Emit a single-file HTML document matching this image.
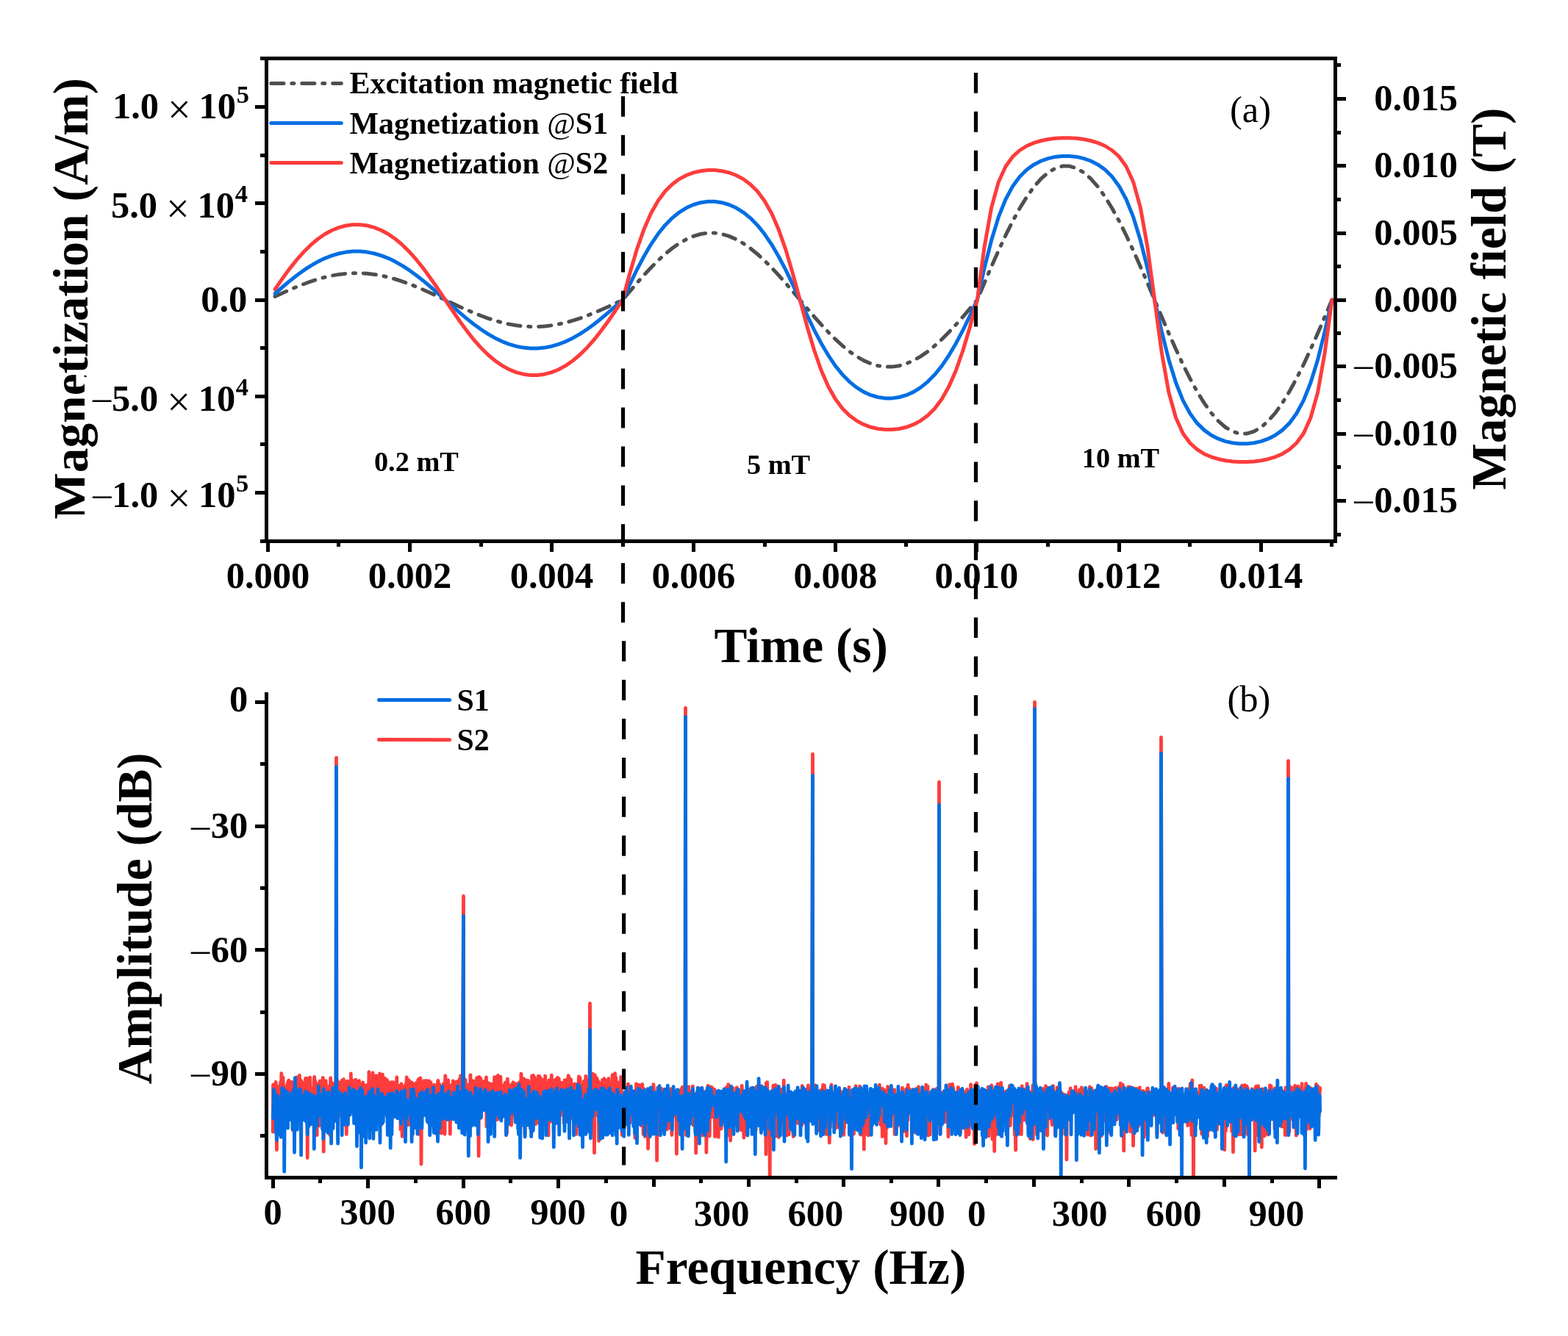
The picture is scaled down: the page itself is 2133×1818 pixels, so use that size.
<!DOCTYPE html><html><head><meta charset="utf-8"><title>Magnetization and spectrum</title><style>html,body{margin:0;padding:0;background:#fff}svg{display:block}</style></head><body><svg xmlns="http://www.w3.org/2000/svg" width="2133" height="1818" viewBox="0 0 2133 1818">
<rect width="2133" height="1818" fill="#fff"/>
<defs><clipPath id="cb"><rect x="362.5" y="932.0" width="1456.5" height="670.5"/></clipPath></defs>
<polyline points="371.2,1540.2 371.6,1476.0 372.1,1483.1 372.5,1487.0 372.9,1509.8 373.4,1495.3 373.8,1505.7 374.2,1485.4 374.7,1498.1 375.1,1472.3 375.5,1477.4 375.9,1492.7 376.4,1564.7 376.8,1515.0 377.2,1504.9 377.7,1491.4 378.1,1495.5 378.5,1481.4 379.0,1479.3 379.4,1498.9 379.8,1491.3 380.3,1477.7 380.7,1486.9 381.1,1499.1 381.6,1472.7 382.0,1481.8 382.4,1512.9 382.8,1460.7 383.3,1478.1 383.7,1521.5 384.1,1477.2 384.6,1498.9 385.0,1466.2 385.4,1478.7 385.9,1477.9 386.3,1490.4 386.7,1478.5 387.2,1481.2 387.6,1503.9 388.0,1491.1 388.5,1501.7 388.9,1512.0 389.3,1484.8 389.7,1482.4 390.2,1500.4 390.6,1494.3 391.0,1474.5 391.5,1507.7 391.9,1472.1 392.3,1497.2 392.8,1470.1 393.2,1491.6 393.6,1496.4 394.1,1517.7 394.5,1491.3 394.9,1481.4 395.4,1475.8 395.8,1483.1 396.2,1472.2 396.6,1477.6 397.1,1509.3 397.5,1496.9 397.9,1491.4 398.4,1538.0 398.8,1496.7 399.2,1478.6 399.7,1505.4 400.1,1518.6 400.5,1472.0 401.0,1508.0 401.4,1481.1 401.8,1478.8 402.3,1493.5 402.7,1474.1 403.1,1480.6 403.5,1465.9 404.0,1476.0 404.4,1490.3 404.8,1492.3 405.3,1493.1 405.7,1475.2 406.1,1470.5 406.6,1482.0 407.0,1480.5 407.4,1463.3 407.9,1476.3 408.3,1496.2 408.7,1480.7 409.2,1529.8 409.6,1477.5 410.0,1470.7 410.4,1474.3 410.9,1501.2 411.3,1473.1 411.7,1475.1 412.2,1478.1 412.6,1498.3 413.0,1500.9 413.5,1520.2 413.9,1488.1 414.3,1480.6 414.8,1514.1 415.2,1486.4 415.6,1467.5 416.1,1512.6 416.5,1479.1 416.9,1499.3 417.3,1476.7 417.8,1467.4 418.2,1575.5 418.6,1480.6 419.1,1476.9 419.5,1470.8 419.9,1484.1 420.4,1513.4 420.8,1478.5 421.2,1479.8 421.7,1466.2 422.1,1487.6 422.5,1487.6 423.0,1498.8 423.4,1493.4 423.8,1498.9 424.2,1513.0 424.7,1482.0 425.1,1483.3 425.5,1486.5 426.0,1482.5 426.4,1484.9 426.8,1493.4 427.3,1470.5 427.7,1465.5 428.1,1487.9 428.6,1470.5 429.0,1473.3 429.4,1497.2 429.9,1481.6 430.3,1491.6 430.7,1481.1 431.2,1544.7 431.6,1482.0 432.0,1488.8 432.4,1497.7 432.9,1474.9 433.3,1502.5 433.7,1529.3 434.2,1531.8 434.6,1504.8 435.0,1471.2 435.5,1509.0 435.9,1531.1 436.3,1475.1 436.8,1495.5 437.2,1477.9 437.6,1471.0 438.1,1471.9 438.5,1498.5 438.9,1468.7 439.3,1466.5 439.8,1493.9 440.2,1567.1 440.6,1493.3 441.1,1496.9 441.5,1490.1 441.9,1531.3 442.4,1535.8 442.8,1477.2 443.2,1470.6 443.7,1486.5 444.1,1522.5 444.5,1512.7 445.0,1499.2 445.4,1492.7 445.8,1499.1 446.2,1493.6 446.7,1495.9 447.1,1514.4 447.5,1518.9 448.0,1489.4 448.4,1477.4 448.8,1544.6 449.3,1488.3 449.7,1466.9 450.1,1493.5 450.6,1496.9 451.0,1495.3 451.4,1473.5 451.9,1486.9 452.3,1522.7 452.7,1490.9 453.1,1487.8 453.6,1495.1 454.0,1475.6 454.4,1479.3 454.9,1485.4 455.3,1476.9 455.7,1476.3 456.2,1474.3 456.6,1474.6 457.0,1465.6 457.5,1031.2 457.9,1473.6 458.3,1507.1 458.8,1470.8 459.2,1509.3 459.6,1529.9 460.0,1480.6 460.5,1493.0 460.9,1514.8 461.3,1517.6 461.8,1472.9 462.2,1479.1 462.6,1496.5 463.1,1485.0 463.5,1478.2 463.9,1512.6 464.4,1475.6 464.8,1481.9 465.2,1470.4 465.7,1500.3 466.1,1512.7 466.5,1487.0 466.9,1500.9 467.4,1468.7 467.8,1512.5 468.2,1482.3 468.7,1473.0 469.1,1476.1 469.5,1476.5 470.0,1491.6 470.4,1492.2 470.8,1475.7 471.3,1543.5 471.7,1484.3 472.1,1471.5 472.6,1471.3 473.0,1478.0 473.4,1507.3 473.8,1508.9 474.3,1518.7 474.7,1475.2 475.1,1478.7 475.6,1476.8 476.0,1497.4 476.4,1482.9 476.9,1493.8 477.3,1461.0 477.7,1474.9 478.2,1480.7 478.6,1481.1 479.0,1487.6 479.5,1500.0 479.9,1487.7 480.3,1473.6 480.8,1490.1 481.2,1470.7 481.6,1474.7 482.0,1493.2 482.5,1475.8 482.9,1483.0 483.3,1475.3 483.8,1469.1 484.2,1474.0 484.6,1480.1 485.1,1474.6 485.5,1509.0 485.9,1475.4 486.4,1476.9 486.8,1521.6 487.2,1475.6 487.7,1483.7 488.1,1506.5 488.5,1470.6 488.9,1499.0 489.4,1500.7 489.8,1474.7 490.2,1482.6 490.7,1479.2 491.1,1481.7 491.5,1476.6 492.0,1475.6 492.4,1521.0 492.8,1524.7 493.3,1484.3 493.7,1473.0 494.1,1481.7 494.6,1477.9 495.0,1484.0 495.4,1494.5 495.8,1500.7 496.3,1496.0 496.7,1517.4 497.1,1501.7 497.6,1480.9 498.0,1476.8 498.4,1478.9 498.9,1485.2 499.3,1476.7 499.7,1531.6 500.2,1517.1 500.6,1511.7 501.0,1477.7 501.5,1511.2 501.9,1458.7 502.3,1476.3 502.7,1491.1 503.2,1483.6 503.6,1502.9 504.0,1473.4 504.5,1483.6 504.9,1502.4 505.3,1478.7 505.8,1472.8 506.2,1495.5 506.6,1483.6 507.1,1459.9 507.5,1492.2 507.9,1478.5 508.4,1520.6 508.8,1504.5 509.2,1475.6 509.6,1519.4 510.1,1477.3 510.5,1485.0 510.9,1465.6 511.4,1471.0 511.8,1463.7 512.2,1504.3 512.7,1467.0 513.1,1477.4 513.5,1496.7 514.0,1466.5 514.4,1479.9 514.8,1492.9 515.3,1523.9 515.7,1475.0 516.1,1502.5 516.5,1460.9 517.0,1478.7 517.4,1491.1 517.8,1478.4 518.3,1510.6 518.7,1530.2 519.1,1489.5 519.6,1505.5 520.0,1486.2 520.4,1462.2 520.9,1487.3 521.3,1507.3 521.7,1498.7 522.2,1485.4 522.6,1472.5 523.0,1514.8 523.4,1467.1 523.9,1515.5 524.3,1488.9 524.7,1472.2 525.2,1473.6 525.6,1478.7 526.0,1474.4 526.5,1469.4 526.9,1484.3 527.3,1508.4 527.8,1482.6 528.2,1489.2 528.6,1516.7 529.1,1472.9 529.5,1483.0 529.9,1495.4 530.3,1501.4 530.8,1476.6 531.2,1497.1 531.6,1495.8 532.1,1487.2 532.5,1472.7 532.9,1482.4 533.4,1482.8 533.8,1487.3 534.2,1472.7 534.7,1501.4 535.1,1488.4 535.5,1515.6 536.0,1503.1 536.4,1491.4 536.8,1501.8 537.3,1475.2 537.7,1504.8 538.1,1482.5 538.5,1472.7 539.0,1481.9 539.4,1475.1 539.8,1465.9 540.3,1511.3 540.7,1485.0 541.1,1505.3 541.6,1501.6 542.0,1504.5 542.4,1477.3 542.9,1503.5 543.3,1504.9 543.7,1512.1 544.2,1495.8 544.6,1491.9 545.0,1537.2 545.4,1495.9 545.9,1474.8 546.3,1534.4 546.7,1487.2 547.2,1546.4 547.6,1500.9 548.0,1477.9 548.5,1482.5 548.9,1482.9 549.3,1494.8 549.8,1515.1 550.2,1482.4 550.6,1525.6 551.1,1478.6 551.5,1527.9 551.9,1475.4 552.3,1504.9 552.8,1479.5 553.2,1465.9 553.6,1478.9 554.1,1476.7 554.5,1531.0 554.9,1494.8 555.4,1471.7 555.8,1486.2 556.2,1469.9 556.7,1475.7 557.1,1473.5 557.5,1500.3 558.0,1504.8 558.4,1530.4 558.8,1473.3 559.2,1472.7 559.7,1511.0 560.1,1473.1 560.5,1489.3 561.0,1476.1 561.4,1486.7 561.8,1491.3 562.3,1474.6 562.7,1514.5 563.1,1489.0 563.6,1482.3 564.0,1479.3 564.4,1507.1 564.9,1493.8 565.3,1507.4 565.7,1518.0 566.1,1522.9 566.6,1473.1 567.0,1475.0 567.4,1512.7 567.9,1515.1 568.3,1504.2 568.7,1469.6 569.2,1502.7 569.6,1487.6 570.0,1468.1 570.5,1500.0 570.9,1543.9 571.3,1491.7 571.8,1466.8 572.2,1472.3 572.6,1476.5 573.0,1584.0 573.5,1497.3 573.9,1490.5 574.3,1477.2 574.8,1488.0 575.2,1479.3 575.6,1518.6 576.1,1513.6 576.5,1493.2 576.9,1470.7 577.4,1504.6 577.8,1486.2 578.2,1474.8 578.7,1486.1 579.1,1479.7 579.5,1470.7 579.9,1485.2 580.4,1470.6 580.8,1474.7 581.2,1476.2 581.7,1482.5 582.1,1472.2 582.5,1513.2 583.0,1478.2 583.4,1486.6 583.8,1471.0 584.3,1504.6 584.7,1482.2 585.1,1476.1 585.6,1480.9 586.0,1472.8 586.4,1523.3 586.9,1519.6 587.3,1487.1 587.7,1485.1 588.1,1489.0 588.6,1488.8 589.0,1479.3 589.4,1480.6 589.9,1496.4 590.3,1494.2 590.7,1476.2 591.2,1486.8 591.6,1520.8 592.0,1483.5 592.5,1499.6 592.9,1488.3 593.3,1483.2 593.8,1482.9 594.2,1477.8 594.6,1485.7 595.0,1540.5 595.5,1471.3 595.9,1470.5 596.3,1476.8 596.8,1475.0 597.2,1493.0 597.6,1475.4 598.1,1495.3 598.5,1486.6 598.9,1486.6 599.4,1481.6 599.8,1530.6 600.2,1542.1 600.7,1510.8 601.1,1479.6 601.5,1478.4 601.9,1490.7 602.4,1497.7 602.8,1481.5 603.2,1475.0 603.7,1484.8 604.1,1480.8 604.5,1505.6 605.0,1543.3 605.4,1475.6 605.8,1463.8 606.3,1478.9 606.7,1484.3 607.1,1473.9 607.6,1512.3 608.0,1478.6 608.4,1487.8 608.8,1503.2 609.3,1503.5 609.7,1469.9 610.1,1519.3 610.6,1479.1 611.0,1500.6 611.4,1499.3 611.9,1499.8 612.3,1543.2 612.7,1506.0 613.2,1476.9 613.6,1482.3 614.0,1477.3 614.5,1482.1 614.9,1480.9 615.3,1483.9 615.7,1488.4 616.2,1471.0 616.6,1475.7 617.0,1481.0 617.5,1473.2 617.9,1512.9 618.3,1472.1 618.8,1502.7 619.2,1484.5 619.6,1519.0 620.1,1490.4 620.5,1489.0 620.9,1481.7 621.4,1481.6 621.8,1504.0 622.2,1471.6 622.6,1473.7 623.1,1477.5 623.5,1497.0 623.9,1484.0 624.4,1471.6 624.8,1486.7 625.2,1468.3 625.7,1485.9 626.1,1473.5 626.5,1463.8 627.0,1482.5 627.4,1469.0 627.8,1475.6 628.3,1493.9 628.7,1475.4 629.1,1490.6 629.5,1478.1 630.5,1219.4 630.4,1475.0 630.8,1487.2 631.3,1509.4 631.7,1479.4 632.1,1476.4 632.6,1469.5 633.0,1469.1 633.4,1475.0 633.9,1483.9 634.3,1514.5 634.7,1477.0 635.2,1489.2 635.6,1493.4 636.0,1477.5 636.4,1476.7 636.9,1484.3 637.3,1477.8 637.7,1477.3 638.2,1486.2 638.6,1489.8 639.0,1543.5 639.5,1478.7 639.9,1462.8 640.3,1474.4 640.8,1476.3 641.2,1488.7 641.6,1490.3 642.1,1528.1 642.5,1477.8 642.9,1479.4 643.4,1485.4 643.8,1470.9 644.2,1507.8 644.6,1505.4 645.1,1486.4 645.5,1510.4 645.9,1513.1 646.4,1504.1 646.8,1486.0 647.2,1477.9 647.7,1507.0 648.1,1512.7 648.5,1466.8 649.0,1508.2 649.4,1509.9 649.8,1476.3 650.3,1466.2 650.7,1474.8 651.1,1573.1 651.5,1478.2 652.0,1465.3 652.4,1488.3 652.8,1470.0 653.3,1521.9 653.7,1467.3 654.1,1468.6 654.6,1482.6 655.0,1471.6 655.4,1471.2 655.9,1476.0 656.3,1477.7 656.7,1478.7 657.2,1476.0 657.6,1486.5 658.0,1480.4 658.4,1477.6 658.9,1477.6 659.3,1471.3 659.7,1477.0 660.2,1495.6 660.6,1493.4 661.0,1471.2 661.5,1465.9 661.9,1532.9 662.3,1472.3 662.8,1477.0 663.2,1510.7 663.6,1501.5 664.1,1479.8 664.5,1473.8 664.9,1514.3 665.3,1481.3 665.8,1478.6 666.2,1476.0 666.6,1510.6 667.1,1474.9 667.5,1477.6 667.9,1483.9 668.4,1495.2 668.8,1475.1 669.2,1505.9 669.7,1477.2 670.1,1499.4 670.5,1491.7 671.0,1495.3 671.4,1494.0 671.8,1512.8 672.2,1488.8 672.7,1465.6 673.1,1503.1 673.5,1522.5 674.0,1465.9 674.4,1502.1 674.8,1487.2 675.3,1489.2 675.7,1489.8 676.1,1486.2 676.6,1523.6 677.0,1495.4 677.4,1463.3 677.9,1480.5 678.3,1475.8 678.7,1484.9 679.1,1498.3 679.6,1479.4 680.0,1471.6 680.4,1480.9 680.9,1465.2 681.3,1481.3 681.7,1520.0 682.2,1478.9 682.6,1478.4 683.0,1494.1 683.5,1489.7 683.9,1478.1 684.3,1477.1 684.8,1476.9 685.2,1477.1 685.6,1478.7 686.0,1508.7 686.5,1506.7 686.9,1481.0 687.3,1473.2 687.8,1488.3 688.2,1473.3 688.6,1544.7 689.1,1472.3 689.5,1542.3 689.9,1479.1 690.4,1468.1 690.8,1484.9 691.2,1492.0 691.7,1479.3 692.1,1494.9 692.5,1499.7 692.9,1477.4 693.4,1514.1 693.8,1498.3 694.2,1476.6 694.7,1513.0 695.1,1479.6 695.5,1531.2 696.0,1514.1 696.4,1501.8 696.8,1519.3 697.3,1491.3 697.7,1473.4 698.1,1472.9 698.6,1492.6 699.0,1490.1 699.4,1477.7 699.9,1500.1 700.3,1516.1 700.7,1478.9 701.1,1477.3 701.6,1485.5 702.0,1475.0 702.4,1493.2 702.9,1478.3 703.3,1485.3 703.7,1482.8 704.2,1509.9 704.6,1506.7 705.0,1501.2 705.5,1498.9 705.9,1487.5 706.3,1472.9 706.8,1475.7 707.2,1482.8 707.6,1478.8 708.0,1508.1 708.5,1502.4 708.9,1461.1 709.3,1465.3 709.8,1495.4 710.2,1479.2 710.6,1474.2 711.1,1484.2 711.5,1470.9 711.9,1478.7 712.4,1490.1 712.8,1467.9 713.2,1473.5 713.7,1475.0 714.1,1543.4 714.5,1478.0 714.9,1479.5 715.4,1516.2 715.8,1474.5 716.2,1470.2 716.7,1470.9 717.1,1491.5 717.5,1516.0 718.0,1501.2 718.4,1470.3 718.8,1526.7 719.3,1473.0 719.7,1474.8 720.1,1474.4 720.6,1521.9 721.0,1474.4 721.4,1482.9 721.8,1480.8 722.3,1477.2 722.7,1490.6 723.1,1541.9 723.6,1463.9 724.0,1487.5 724.4,1464.3 724.9,1476.8 725.3,1463.3 725.7,1480.8 726.2,1525.6 726.6,1478.6 727.0,1465.7 727.5,1477.9 727.9,1477.3 728.3,1469.0 728.7,1529.6 729.2,1482.9 729.6,1472.7 730.0,1510.9 730.5,1488.6 730.9,1503.1 731.3,1510.4 731.8,1498.6 732.2,1464.5 732.6,1527.9 733.1,1481.8 733.5,1464.3 733.9,1491.1 734.4,1489.4 734.8,1484.9 735.2,1466.6 735.6,1518.7 736.1,1484.2 736.5,1531.2 736.9,1477.5 737.4,1483.4 737.8,1497.3 738.2,1474.5 738.7,1511.6 739.1,1469.3 739.5,1477.9 740.0,1510.1 740.4,1481.4 740.8,1472.7 741.3,1474.1 741.7,1464.2 742.1,1495.3 742.5,1477.1 743.0,1491.8 743.4,1491.2 743.8,1521.3 744.3,1497.6 744.7,1485.6 745.1,1500.1 745.6,1506.5 746.0,1545.1 746.4,1476.4 746.9,1469.8 747.3,1470.3 747.7,1475.6 748.2,1483.8 748.6,1526.3 749.0,1500.9 749.5,1491.6 749.9,1493.8 750.3,1463.2 750.7,1478.4 751.2,1520.4 751.6,1476.1 752.0,1501.9 752.5,1485.1 752.9,1487.7 753.3,1539.3 753.8,1479.6 754.2,1500.8 754.6,1492.5 755.1,1469.7 755.5,1483.9 755.9,1471.1 756.4,1513.7 756.8,1503.6 757.2,1479.7 757.6,1467.7 758.1,1471.4 758.5,1466.3 758.9,1476.7 759.4,1482.1 759.8,1480.4 760.2,1467.6 760.7,1503.2 761.1,1496.0 761.5,1488.8 762.0,1472.7 762.4,1473.8 762.8,1517.1 763.3,1477.3 763.7,1484.8 764.1,1488.6 764.5,1473.7 765.0,1489.9 765.4,1477.1 765.8,1476.7 766.3,1501.4 766.7,1481.0 767.1,1528.1 767.6,1498.9 768.0,1470.0 768.4,1483.9 768.9,1498.7 769.3,1491.0 769.7,1478.9 770.2,1469.7 770.6,1494.8 771.0,1512.0 771.4,1481.5 771.9,1496.5 772.3,1494.0 772.7,1472.2 773.2,1463.7 773.6,1480.0 774.0,1465.6 774.5,1541.0 774.9,1478.4 775.3,1486.2 775.8,1522.9 776.2,1491.8 776.6,1468.9 777.1,1494.8 777.5,1493.4 777.9,1476.6 778.3,1494.4 778.8,1481.5 779.2,1507.9 779.6,1488.7 780.1,1497.0 780.5,1497.3 780.9,1481.0 781.4,1474.9 781.8,1475.5 782.2,1490.9 782.7,1534.3 783.1,1492.2 783.5,1502.5 784.0,1543.4 784.4,1478.7 784.8,1475.5 785.2,1488.3 785.7,1476.6 786.1,1524.7 786.5,1491.1 787.0,1478.1 787.4,1464.9 787.8,1476.0 788.3,1484.4 788.7,1473.1 789.1,1466.6 789.6,1529.8 790.0,1479.3 790.4,1476.7 790.9,1492.9 791.3,1507.9 791.7,1476.6 792.1,1501.5 792.6,1505.7 793.0,1500.3 793.4,1529.7 793.9,1479.7 794.3,1471.3 794.7,1489.7 795.2,1481.8 795.6,1476.8 796.0,1474.2 796.5,1471.3 796.9,1464.3 797.3,1486.1 797.8,1524.0 798.2,1504.1 798.6,1478.9 799.0,1506.8 799.5,1480.3 799.9,1493.4 800.3,1478.0 800.8,1490.1 801.2,1498.1 801.6,1468.9 802.1,1491.9 802.5,1365.3 802.9,1477.2 803.4,1514.4 803.8,1506.0 804.2,1506.2 804.7,1486.5 805.1,1477.2 805.5,1472.2 806.0,1473.2 806.4,1461.1 806.8,1464.4 807.2,1493.4 807.7,1509.5 808.1,1475.1 808.5,1568.8 809.0,1479.4 809.4,1463.0 809.8,1518.2 810.3,1472.7 810.7,1494.1 811.1,1487.7 811.6,1479.9 812.0,1467.2 812.4,1485.9 812.9,1478.9 813.3,1506.0 813.7,1471.1 814.1,1485.8 814.6,1552.6 815.0,1506.8 815.4,1484.2 815.9,1479.1 816.3,1476.5 816.7,1474.5 817.2,1503.9 817.6,1484.5 818.0,1485.0 818.5,1508.5 818.9,1504.6 819.3,1469.7 819.8,1478.5 820.2,1522.4 820.6,1536.3 821.0,1517.4 821.5,1474.0 821.9,1467.6 822.3,1504.3 822.8,1530.6 823.2,1475.1 823.6,1490.8 824.1,1504.1 824.5,1526.8 824.9,1470.5 825.4,1478.7 825.8,1522.4 826.2,1484.3 826.7,1478.8 827.1,1517.0 827.5,1536.6 827.9,1467.6 828.4,1508.7 828.8,1474.4 829.2,1473.3 829.7,1476.9 830.1,1511.3 830.5,1500.2 831.0,1503.8 831.4,1506.7 831.8,1493.6 832.3,1480.6 832.7,1497.6 833.1,1462.7 833.6,1487.7 834.0,1501.4 834.4,1515.1 834.8,1507.7 835.3,1484.5 835.7,1468.4 836.1,1494.5 836.6,1460.6 837.0,1473.4 837.4,1475.5 837.9,1466.6 838.3,1486.5 838.7,1475.1 839.2,1476.7 839.6,1495.1 840.0,1483.8 840.5,1472.8 840.9,1497.3 841.3,1520.4 841.7,1533.0 842.2,1509.0 842.6,1474.9 843.0,1492.8 843.5,1491.5 843.9,1476.0 844.3,1474.1 844.8,1465.3 845.2,1482.0 845.6,1502.9 846.2,1544.7 846.6,1517.7 847.1,1537.4 847.5,1544.5 847.9,1530.4 848.4,1501.8 848.8,1507.1 849.2,1521.3 849.7,1492.5 850.1,1523.4 850.5,1498.4 850.9,1488.4 851.4,1505.2 851.8,1503.8 852.2,1495.8 852.7,1491.4 853.1,1489.9 853.5,1509.5 854.0,1506.6 854.4,1475.1 854.8,1481.0 855.3,1489.9 855.7,1512.9 856.1,1483.8 856.6,1517.6 857.0,1527.9 857.4,1493.9 857.8,1513.7 858.3,1498.3 858.7,1503.5 859.1,1500.0 859.6,1509.2 860.0,1523.0 860.4,1492.8 860.9,1488.6 861.3,1489.3 861.7,1487.6 862.2,1516.3 862.6,1523.4 863.0,1492.5 863.5,1519.6 863.9,1548.5 864.3,1492.3 864.7,1498.3 865.2,1511.0 865.6,1474.9 866.0,1530.3 866.5,1531.3 866.9,1505.5 867.3,1508.0 867.8,1505.5 868.2,1492.9 868.6,1485.9 869.1,1491.3 869.5,1476.3 869.9,1487.2 870.4,1486.0 870.8,1511.3 871.2,1529.5 871.6,1513.9 872.1,1531.5 872.5,1486.2 872.9,1484.5 873.4,1484.1 873.8,1475.5 874.2,1500.3 874.7,1498.2 875.1,1543.6 875.5,1495.2 876.0,1481.7 876.4,1529.1 876.8,1528.5 877.3,1546.5 877.7,1510.7 878.1,1513.2 878.5,1507.8 879.0,1488.0 879.4,1543.4 879.8,1493.0 880.3,1493.1 880.7,1486.4 881.1,1487.4 881.6,1563.0 882.0,1500.1 882.4,1482.0 882.9,1508.8 883.3,1486.1 883.7,1490.1 884.2,1524.4 884.6,1493.0 885.0,1489.4 885.4,1498.6 885.9,1519.3 886.3,1534.5 886.7,1489.7 887.2,1482.4 887.6,1516.7 888.0,1510.9 888.5,1525.3 888.9,1475.7 889.3,1480.9 889.8,1494.9 890.2,1492.5 890.6,1488.7 891.1,1492.7 891.5,1518.0 891.9,1489.9 892.3,1494.0 892.8,1526.4 893.2,1489.8 893.6,1579.1 894.1,1490.5 894.5,1509.9 894.9,1479.8 895.4,1491.4 895.8,1484.1 896.2,1502.6 896.7,1507.3 897.1,1490.9 897.5,1497.8 898.0,1541.4 898.4,1487.4 898.8,1508.2 899.2,1492.7 899.7,1507.8 900.1,1481.6 900.5,1491.0 901.0,1504.4 901.4,1488.9 901.8,1491.1 902.3,1507.2 902.7,1513.8 903.1,1483.3 903.6,1500.5 904.0,1497.2 904.4,1500.0 904.9,1492.6 905.3,1489.0 905.7,1486.1 906.2,1518.2 906.6,1493.7 907.0,1521.5 907.4,1536.9 907.9,1490.3 908.3,1495.3 908.7,1486.8 909.2,1506.1 909.6,1535.1 910.0,1513.1 910.5,1488.3 910.9,1491.4 911.3,1508.5 911.8,1489.9 912.2,1505.2 912.6,1513.5 913.1,1481.6 913.5,1485.1 913.9,1544.5 914.3,1484.3 914.8,1484.9 915.2,1494.9 915.6,1519.1 916.1,1490.2 916.5,1490.6 916.9,1513.6 917.4,1513.6 917.8,1485.4 918.2,1493.1 918.7,1499.2 919.1,1500.2 919.5,1486.8 920.0,1515.0 920.4,1570.0 920.8,1490.1 921.2,1518.4 921.7,1519.0 922.1,1505.4 922.5,1507.6 923.0,1502.4 923.4,1493.5 923.8,1517.6 924.3,1516.3 924.7,1513.5 925.1,1491.6 925.6,1504.6 926.0,1532.2 926.4,1482.6 926.9,1491.3 927.3,1497.8 927.7,1485.2 928.1,1479.4 928.6,1513.7 929.0,1514.1 929.4,1501.9 929.9,1511.8 930.3,1483.0 930.7,1508.6 931.2,1496.9 931.6,1488.1 932.0,1535.2 932.5,963.3 932.9,1487.9 933.3,1544.6 933.8,1497.2 934.2,1520.8 934.6,1520.4 935.0,1483.6 935.5,1512.1 935.9,1490.8 936.3,1543.7 936.8,1478.9 937.2,1524.3 937.6,1498.6 938.1,1486.0 938.5,1489.3 938.9,1498.2 939.4,1489.0 939.8,1490.1 940.2,1485.0 940.7,1496.1 941.1,1495.1 941.5,1508.3 941.9,1524.5 942.4,1478.2 942.8,1519.0 943.2,1531.2 943.7,1500.4 944.1,1499.9 944.5,1492.5 945.0,1496.4 945.4,1493.9 945.8,1510.8 946.3,1498.5 946.7,1569.0 947.1,1487.9 947.6,1489.5 948.0,1496.4 948.4,1512.0 948.8,1506.5 949.3,1485.9 949.7,1539.9 950.1,1513.0 950.6,1492.0 951.0,1502.1 951.4,1537.4 951.9,1513.2 952.3,1481.2 952.7,1487.8 953.2,1511.5 953.6,1517.2 954.0,1508.5 954.5,1484.0 954.9,1514.8 955.3,1509.8 955.8,1545.0 956.2,1500.1 956.6,1485.0 957.0,1523.8 957.5,1488.0 957.9,1493.7 958.3,1487.4 958.8,1517.9 959.2,1495.8 959.6,1504.8 960.1,1511.0 960.5,1515.0 960.9,1568.3 961.4,1492.5 961.8,1524.5 962.2,1491.9 962.7,1485.9 963.1,1477.3 963.5,1511.8 963.9,1507.1 964.4,1500.1 964.8,1507.3 965.2,1546.1 965.7,1493.9 966.1,1487.2 966.5,1478.9 967.0,1486.4 967.4,1497.5 967.8,1491.3 968.3,1479.4 968.7,1520.1 969.1,1484.9 969.6,1485.7 970.0,1485.0 970.4,1507.3 970.8,1496.4 971.3,1516.1 971.7,1482.1 972.1,1484.0 972.6,1546.8 973.0,1511.0 973.4,1537.8 973.9,1502.9 974.3,1489.4 974.7,1526.4 975.2,1507.0 975.6,1501.5 976.0,1491.9 976.5,1500.9 976.9,1537.0 977.3,1547.4 977.7,1493.0 978.2,1498.7 978.6,1492.6 979.0,1487.2 979.5,1508.1 979.9,1486.3 980.3,1500.1 980.8,1536.1 981.2,1512.7 981.6,1531.6 982.1,1529.6 982.5,1522.0 982.9,1491.2 983.4,1485.4 983.8,1497.6 984.2,1487.2 984.6,1517.9 985.1,1509.4 985.5,1520.9 985.9,1510.4 986.4,1498.6 986.8,1489.6 987.2,1519.1 987.7,1482.1 988.1,1479.8 988.5,1543.8 989.0,1503.6 989.4,1545.0 989.8,1511.3 990.3,1488.2 990.7,1475.6 991.1,1488.4 991.5,1543.2 992.0,1506.3 992.4,1506.7 992.8,1516.7 993.3,1522.6 993.7,1552.1 994.1,1513.2 994.6,1536.3 995.0,1538.0 995.4,1507.3 995.9,1483.5 996.3,1481.4 996.7,1509.4 997.2,1480.6 997.6,1507.3 998.0,1489.5 998.4,1516.1 998.9,1531.1 999.3,1502.9 999.7,1493.2 1000.2,1523.1 1000.6,1511.6 1001.0,1499.4 1001.5,1493.9 1001.9,1499.3 1002.3,1479.9 1002.8,1496.8 1003.2,1490.0 1003.6,1538.6 1004.1,1488.0 1004.5,1502.8 1004.9,1498.1 1005.3,1525.7 1005.8,1490.8 1006.2,1494.1 1006.6,1532.2 1007.1,1483.6 1007.5,1495.9 1007.9,1513.2 1008.4,1537.8 1008.8,1510.7 1009.2,1477.3 1009.7,1517.7 1010.1,1484.6 1010.5,1491.8 1011.0,1487.9 1011.4,1507.3 1011.8,1548.2 1012.3,1504.9 1012.7,1495.4 1013.1,1486.9 1013.5,1493.4 1014.0,1510.9 1014.4,1492.8 1014.8,1494.8 1015.3,1489.7 1015.7,1498.0 1016.1,1544.6 1016.6,1510.6 1017.0,1489.6 1017.4,1486.2 1017.9,1482.4 1018.3,1522.3 1018.7,1518.1 1019.2,1504.4 1019.6,1498.2 1020.0,1503.1 1020.4,1501.1 1020.9,1513.3 1021.3,1489.5 1021.7,1507.7 1022.2,1481.8 1022.6,1501.1 1023.0,1500.4 1023.5,1536.1 1023.9,1512.6 1024.3,1495.0 1024.8,1489.4 1025.2,1526.9 1025.6,1514.6 1026.1,1520.9 1026.5,1503.0 1026.9,1508.2 1027.3,1481.8 1027.8,1496.1 1028.2,1537.8 1028.6,1497.1 1029.1,1493.0 1029.5,1478.3 1029.9,1482.1 1030.4,1498.4 1030.8,1491.1 1031.2,1503.4 1031.7,1488.7 1032.1,1484.5 1032.5,1530.9 1033.0,1504.5 1033.4,1497.1 1033.8,1487.6 1034.2,1492.7 1034.7,1490.0 1035.1,1538.6 1035.5,1486.6 1036.0,1477.8 1036.4,1524.4 1036.8,1527.1 1037.3,1504.4 1037.7,1490.3 1038.1,1510.7 1038.6,1505.1 1039.0,1516.3 1039.4,1479.8 1039.9,1491.9 1040.3,1510.8 1040.7,1506.8 1041.1,1482.3 1041.6,1486.4 1042.0,1570.7 1042.4,1473.6 1042.9,1510.8 1043.3,1498.1 1043.7,1472.6 1044.2,1507.4 1044.6,1504.2 1045.0,1489.2 1045.5,1511.0 1045.9,1502.0 1046.3,1500.8 1046.8,1493.3 1047.2,1606.0 1047.6,1515.8 1048.0,1492.3 1048.5,1510.6 1048.9,1537.4 1049.3,1485.7 1049.8,1532.6 1050.2,1508.9 1050.6,1498.8 1051.1,1499.8 1051.5,1544.1 1051.9,1477.1 1052.4,1487.0 1052.8,1484.8 1053.2,1538.9 1053.7,1505.0 1054.1,1494.7 1054.5,1509.1 1054.9,1476.5 1055.4,1546.2 1055.8,1495.7 1056.2,1480.7 1056.7,1529.0 1057.1,1495.7 1057.5,1505.5 1058.0,1495.1 1058.4,1478.5 1058.8,1491.5 1059.3,1547.5 1059.7,1524.6 1060.1,1515.1 1060.6,1489.6 1061.0,1487.8 1061.4,1490.6 1061.8,1486.4 1062.3,1490.1 1062.7,1516.8 1063.1,1482.3 1063.6,1509.2 1064.0,1527.5 1064.4,1506.2 1064.9,1489.4 1065.3,1493.2 1065.7,1507.3 1066.2,1470.2 1066.6,1544.8 1067.0,1510.1 1067.5,1498.2 1067.9,1514.8 1068.3,1528.5 1068.8,1492.2 1069.2,1502.9 1069.6,1502.4 1070.0,1490.5 1070.5,1544.9 1070.9,1503.7 1071.3,1541.9 1071.8,1485.8 1072.2,1499.9 1072.6,1532.7 1073.1,1543.8 1073.5,1507.2 1073.9,1499.0 1074.4,1489.9 1074.8,1486.0 1075.2,1487.9 1075.7,1487.0 1076.1,1498.0 1076.5,1515.2 1076.9,1489.9 1077.4,1515.5 1077.8,1491.0 1078.2,1487.9 1078.7,1522.9 1079.1,1546.5 1079.5,1495.4 1080.0,1489.0 1080.4,1513.3 1080.8,1515.7 1081.3,1514.8 1081.7,1503.1 1082.1,1489.4 1082.6,1509.1 1083.0,1497.9 1083.4,1510.7 1083.8,1496.0 1084.3,1489.4 1084.7,1499.0 1085.1,1528.3 1085.6,1495.3 1086.0,1493.8 1086.4,1517.4 1086.9,1486.4 1087.3,1503.3 1087.7,1484.2 1088.2,1529.2 1088.6,1485.7 1089.0,1513.8 1089.5,1484.3 1089.9,1493.7 1090.3,1505.6 1090.7,1531.3 1091.2,1477.7 1091.6,1497.2 1092.0,1513.3 1092.5,1508.4 1092.9,1499.7 1093.3,1495.7 1093.8,1490.0 1094.2,1511.9 1094.6,1494.6 1095.1,1490.4 1095.5,1528.5 1095.9,1505.7 1096.4,1490.0 1096.8,1495.7 1097.2,1498.7 1097.6,1513.0 1098.1,1501.5 1098.5,1487.4 1098.9,1497.5 1099.4,1476.9 1099.8,1492.2 1100.2,1525.6 1100.7,1489.3 1101.1,1489.2 1101.5,1482.2 1102.0,1501.4 1102.4,1516.7 1102.8,1487.3 1103.3,1484.2 1103.7,1484.9 1104.1,1505.9 1104.5,1504.5 1105.5,1026.2 1105.4,1500.5 1105.8,1491.3 1106.3,1505.2 1106.7,1481.5 1107.1,1488.1 1107.6,1502.9 1108.0,1476.6 1108.4,1494.6 1108.9,1489.5 1109.3,1493.2 1109.7,1492.9 1110.2,1489.7 1110.6,1486.7 1111.0,1487.7 1111.4,1487.3 1111.9,1532.0 1112.3,1508.2 1112.7,1503.3 1113.2,1505.0 1113.6,1495.4 1114.0,1504.1 1114.5,1533.3 1114.9,1538.7 1115.3,1499.6 1115.8,1483.9 1116.2,1496.6 1116.6,1507.1 1117.1,1513.4 1117.5,1513.7 1117.9,1513.2 1118.4,1503.4 1118.8,1481.4 1119.2,1502.6 1119.6,1476.3 1120.1,1510.7 1120.5,1510.4 1120.9,1484.5 1121.4,1476.9 1121.8,1487.3 1122.2,1518.8 1122.7,1508.1 1123.1,1493.1 1123.5,1491.4 1124.0,1487.5 1124.4,1543.7 1124.8,1488.2 1125.3,1492.0 1125.7,1497.3 1126.1,1504.0 1126.5,1487.0 1127.0,1491.2 1127.4,1487.3 1127.8,1510.8 1128.3,1555.0 1128.7,1515.0 1129.1,1492.1 1129.6,1533.6 1130.0,1486.2 1130.4,1526.7 1130.9,1476.2 1131.3,1484.9 1131.7,1487.6 1132.2,1491.9 1132.6,1520.5 1133.0,1500.5 1133.4,1487.3 1133.9,1489.2 1134.3,1506.2 1134.7,1509.3 1135.2,1518.0 1135.6,1493.6 1136.0,1535.9 1136.5,1526.8 1136.9,1508.1 1137.3,1501.1 1137.8,1514.3 1138.2,1515.4 1138.6,1488.1 1139.1,1495.1 1139.5,1518.4 1139.9,1490.6 1140.3,1534.2 1140.8,1505.0 1141.2,1507.8 1141.6,1494.7 1142.1,1495.8 1142.5,1493.5 1142.9,1511.9 1143.4,1485.1 1143.8,1492.5 1144.2,1486.8 1144.7,1488.7 1145.1,1494.7 1145.5,1491.4 1146.0,1488.8 1146.4,1491.9 1146.8,1485.9 1147.2,1521.8 1147.7,1544.4 1148.1,1514.3 1148.5,1534.5 1149.0,1507.2 1149.4,1481.6 1149.8,1486.8 1150.3,1513.9 1150.7,1498.3 1151.1,1518.0 1151.6,1501.2 1152.0,1495.1 1152.4,1510.8 1152.9,1486.4 1153.3,1521.9 1153.7,1490.5 1154.1,1494.5 1154.6,1499.8 1155.0,1479.4 1155.4,1492.5 1155.9,1488.0 1156.3,1544.8 1156.7,1526.9 1157.2,1506.5 1157.6,1506.8 1158.0,1499.0 1158.5,1492.9 1158.9,1511.7 1159.3,1490.8 1159.8,1488.9 1160.2,1502.3 1160.6,1513.0 1161.0,1511.9 1161.5,1543.0 1161.9,1504.0 1162.3,1497.7 1162.8,1490.5 1163.2,1486.2 1163.6,1498.4 1164.1,1477.8 1164.5,1491.4 1164.9,1494.0 1165.4,1502.6 1165.8,1492.9 1166.2,1500.9 1166.7,1520.6 1167.1,1482.0 1167.5,1494.6 1167.9,1497.4 1168.4,1530.3 1168.8,1508.6 1169.2,1494.0 1169.7,1478.1 1170.1,1543.3 1170.5,1502.8 1171.0,1544.2 1171.4,1499.6 1171.8,1542.2 1172.3,1525.6 1172.7,1488.4 1173.1,1505.7 1173.6,1484.2 1174.0,1508.0 1174.4,1499.2 1174.9,1484.0 1175.3,1563.9 1175.7,1484.9 1176.1,1481.0 1176.6,1505.8 1177.0,1481.8 1177.4,1516.7 1177.9,1506.3 1178.3,1493.4 1178.7,1504.3 1179.2,1543.4 1179.6,1506.8 1180.0,1490.3 1180.5,1497.7 1180.9,1500.8 1181.3,1545.0 1181.8,1500.6 1182.2,1490.2 1182.6,1531.9 1183.0,1488.0 1183.5,1493.3 1183.9,1499.2 1184.3,1500.5 1184.8,1515.6 1185.2,1489.5 1185.6,1497.9 1186.1,1496.3 1186.5,1484.2 1186.9,1489.7 1187.4,1497.0 1187.8,1498.5 1188.2,1494.6 1188.7,1499.4 1189.1,1485.4 1189.5,1501.4 1189.9,1498.7 1190.4,1491.8 1190.8,1488.0 1191.2,1503.5 1191.7,1524.9 1192.1,1495.0 1192.5,1485.7 1193.0,1491.1 1193.4,1482.1 1193.8,1500.1 1194.3,1491.9 1194.7,1483.2 1195.1,1490.4 1195.6,1514.9 1196.0,1497.5 1196.4,1476.2 1196.8,1490.7 1197.3,1498.4 1197.7,1530.3 1198.1,1498.1 1198.6,1496.7 1199.0,1531.7 1199.4,1501.9 1199.9,1514.8 1200.3,1546.6 1200.7,1481.3 1201.2,1517.0 1201.6,1531.8 1202.0,1491.6 1202.5,1530.0 1202.9,1491.1 1203.3,1483.5 1203.7,1500.5 1204.2,1524.9 1204.6,1510.6 1205.0,1555.7 1205.5,1502.0 1205.9,1530.8 1206.3,1483.9 1206.8,1489.7 1207.2,1516.6 1207.6,1478.6 1208.1,1507.0 1208.5,1489.3 1208.9,1520.0 1209.4,1495.5 1209.8,1504.6 1210.2,1487.2 1210.6,1490.7 1211.1,1523.3 1211.5,1505.4 1211.9,1514.6 1212.4,1505.6 1212.8,1501.7 1213.2,1517.4 1213.7,1506.0 1214.1,1515.6 1214.5,1490.7 1215.0,1513.0 1215.4,1485.6 1215.8,1496.9 1216.3,1518.6 1216.7,1482.8 1217.1,1543.6 1217.5,1509.6 1218.0,1503.7 1218.4,1498.5 1218.8,1522.2 1219.3,1494.4 1219.7,1517.4 1220.1,1500.1 1220.6,1518.7 1221.0,1507.0 1221.4,1491.2 1221.9,1492.4 1222.3,1524.1 1222.7,1486.8 1223.2,1531.4 1223.6,1526.1 1224.0,1493.1 1224.5,1510.8 1224.9,1523.7 1225.3,1501.9 1225.7,1526.4 1226.2,1536.2 1226.6,1498.2 1227.0,1531.5 1227.5,1480.3 1227.9,1510.4 1228.3,1516.7 1228.8,1485.3 1229.2,1539.7 1229.6,1488.7 1230.1,1488.2 1230.5,1504.2 1230.9,1495.8 1231.4,1505.3 1231.8,1532.1 1232.2,1507.1 1232.6,1481.8 1233.1,1507.1 1233.5,1545.8 1233.9,1507.8 1234.4,1495.2 1234.8,1524.1 1235.2,1476.4 1235.7,1503.4 1236.1,1511.1 1236.5,1496.0 1237.0,1481.5 1237.4,1503.3 1237.8,1513.4 1238.3,1484.7 1238.7,1493.4 1239.1,1507.8 1239.5,1492.4 1240.0,1484.9 1240.4,1483.9 1240.8,1501.6 1241.3,1502.8 1241.7,1485.7 1242.1,1520.5 1242.6,1484.6 1243.0,1540.9 1243.4,1507.6 1243.9,1490.8 1244.3,1505.2 1244.7,1490.3 1245.2,1482.6 1245.6,1489.2 1246.0,1481.7 1246.4,1489.2 1246.9,1510.6 1247.3,1508.5 1247.7,1501.0 1248.2,1503.9 1248.6,1484.4 1249.0,1499.1 1249.5,1479.0 1249.9,1499.7 1250.3,1506.5 1250.8,1518.4 1251.2,1487.2 1251.6,1531.9 1252.1,1525.8 1252.5,1541.7 1252.9,1514.3 1253.3,1486.3 1253.8,1491.2 1254.2,1496.9 1254.6,1540.9 1255.1,1488.0 1255.5,1519.7 1255.9,1501.2 1256.4,1514.7 1256.8,1492.9 1257.2,1481.5 1257.7,1510.2 1258.1,1500.9 1258.5,1504.5 1259.0,1507.0 1259.4,1487.6 1259.8,1476.2 1260.2,1509.8 1260.7,1508.7 1261.1,1513.8 1261.5,1515.1 1262.0,1478.2 1262.4,1545.1 1262.8,1497.7 1263.3,1515.6 1263.7,1487.1 1264.1,1502.0 1264.6,1527.7 1265.0,1544.1 1265.4,1495.1 1265.9,1489.1 1266.3,1500.9 1266.7,1513.7 1267.1,1509.8 1267.6,1494.7 1268.0,1519.5 1268.4,1509.9 1268.9,1496.1 1269.3,1490.3 1269.7,1482.7 1270.2,1500.8 1270.6,1550.3 1271.0,1488.2 1271.5,1516.6 1271.9,1489.9 1272.3,1498.9 1272.8,1491.6 1273.2,1501.5 1273.6,1482.9 1274.0,1481.6 1274.5,1488.2 1274.9,1507.7 1275.3,1493.0 1275.8,1518.8 1276.2,1497.8 1276.6,1526.3 1277.1,1518.7 1277.5,1064.2 1277.9,1499.3 1278.4,1511.4 1278.8,1543.1 1279.2,1497.0 1279.7,1505.9 1280.1,1487.3 1280.5,1498.8 1281.0,1509.6 1281.4,1491.9 1281.8,1491.5 1282.2,1498.2 1282.7,1503.4 1283.1,1485.8 1283.5,1492.8 1284.0,1493.6 1284.4,1488.0 1284.8,1485.9 1285.3,1525.1 1285.7,1496.2 1286.1,1500.8 1286.6,1488.0 1287.0,1526.5 1287.4,1501.6 1287.9,1514.5 1288.3,1491.0 1288.7,1481.9 1289.1,1502.2 1289.6,1523.4 1290.0,1546.8 1290.4,1489.5 1290.9,1510.1 1291.3,1520.8 1291.7,1476.0 1292.2,1525.9 1292.6,1533.5 1293.0,1518.9 1293.5,1511.0 1293.9,1478.7 1294.3,1519.5 1294.8,1505.9 1295.2,1484.1 1295.6,1475.1 1296.0,1497.6 1296.5,1479.4 1296.9,1481.9 1297.3,1501.1 1297.8,1496.8 1298.2,1525.0 1298.6,1506.0 1299.1,1513.2 1299.5,1515.7 1299.9,1494.4 1300.4,1518.6 1300.8,1495.5 1301.2,1488.0 1301.7,1503.0 1302.1,1490.3 1302.5,1518.3 1302.9,1505.5 1303.4,1479.5 1303.8,1482.4 1304.2,1508.0 1304.7,1492.9 1305.1,1504.6 1305.5,1502.7 1306.0,1491.1 1306.4,1541.5 1306.8,1489.2 1307.3,1505.1 1307.7,1487.5 1308.1,1492.2 1308.6,1483.2 1309.0,1489.5 1309.4,1493.5 1309.8,1484.6 1310.3,1486.9 1310.7,1501.7 1311.1,1533.6 1311.6,1495.5 1312.0,1493.9 1312.4,1509.9 1312.9,1526.6 1313.3,1488.3 1313.7,1492.6 1314.2,1547.4 1314.6,1493.9 1315.0,1483.3 1315.5,1482.6 1315.9,1502.9 1316.3,1507.2 1316.7,1490.1 1317.2,1489.7 1317.6,1491.3 1318.0,1543.8 1318.5,1495.9 1318.9,1485.7 1319.3,1507.1 1319.8,1505.6 1320.2,1508.1 1320.6,1475.8 1321.2,1494.5 1321.6,1492.9 1322.1,1499.2 1322.5,1511.0 1322.9,1515.7 1323.4,1488.6 1323.8,1498.4 1324.2,1484.8 1324.7,1484.9 1325.1,1515.0 1325.5,1556.7 1325.9,1515.0 1326.4,1476.7 1326.8,1502.9 1327.2,1506.6 1327.7,1489.8 1328.1,1479.2 1328.5,1473.9 1329.0,1504.5 1329.4,1502.7 1329.8,1489.5 1330.3,1497.0 1330.7,1529.2 1331.1,1484.4 1331.6,1516.6 1332.0,1518.9 1332.4,1520.1 1332.8,1484.2 1333.3,1495.6 1333.7,1488.0 1334.1,1517.4 1334.6,1532.6 1335.0,1492.2 1335.4,1519.5 1335.9,1490.1 1336.3,1491.6 1336.7,1498.6 1337.2,1490.9 1337.6,1500.4 1338.0,1488.0 1338.5,1487.0 1338.9,1501.6 1339.3,1488.6 1339.7,1517.2 1340.2,1488.9 1340.6,1514.6 1341.0,1507.3 1341.5,1502.0 1341.9,1498.6 1342.3,1499.8 1342.8,1494.8 1343.2,1499.8 1343.6,1493.6 1344.1,1492.3 1344.5,1478.9 1344.9,1545.9 1345.4,1509.4 1345.8,1486.9 1346.2,1485.2 1346.6,1510.4 1347.1,1489.7 1347.5,1484.6 1347.9,1524.4 1348.4,1490.9 1348.8,1476.9 1349.2,1480.9 1349.7,1524.1 1350.1,1550.4 1350.5,1487.8 1351.0,1495.8 1351.4,1484.8 1351.8,1517.6 1352.3,1515.8 1352.7,1566.6 1353.1,1492.6 1353.5,1487.9 1354.0,1502.1 1354.4,1513.8 1354.8,1544.5 1355.3,1510.8 1355.7,1496.0 1356.1,1489.3 1356.6,1492.4 1357.0,1491.4 1357.4,1474.9 1357.9,1490.4 1358.3,1504.7 1358.7,1515.5 1359.2,1485.0 1359.6,1516.7 1360.0,1489.2 1360.4,1489.1 1360.9,1490.4 1361.3,1493.9 1361.7,1473.3 1362.2,1506.0 1362.6,1482.7 1363.0,1484.8 1363.5,1497.4 1363.9,1509.1 1364.3,1492.1 1364.8,1497.2 1365.2,1489.5 1365.6,1486.1 1366.1,1504.2 1366.5,1511.6 1366.9,1489.2 1367.3,1491.3 1367.8,1495.0 1368.2,1485.2 1368.6,1508.9 1369.1,1488.3 1369.5,1502.6 1369.9,1488.4 1370.4,1490.3 1370.8,1536.5 1371.2,1519.6 1371.7,1496.4 1372.1,1509.9 1372.5,1516.1 1373.0,1484.5 1373.4,1477.7 1373.8,1525.9 1374.2,1531.5 1374.7,1509.2 1375.1,1511.7 1375.5,1499.4 1376.0,1502.1 1376.4,1515.9 1376.8,1517.2 1377.3,1491.0 1377.7,1499.3 1378.1,1485.1 1378.6,1517.8 1379.0,1515.3 1379.4,1502.0 1379.9,1501.5 1380.3,1544.6 1380.7,1493.5 1381.2,1515.0 1381.6,1565.1 1382.0,1513.3 1382.4,1530.7 1382.9,1503.4 1383.3,1490.6 1383.7,1528.1 1384.2,1489.5 1384.6,1492.6 1385.0,1485.3 1385.5,1497.9 1385.9,1494.0 1386.3,1513.2 1386.8,1543.1 1387.2,1489.8 1387.6,1484.0 1388.1,1494.0 1388.5,1493.6 1388.9,1497.4 1389.3,1543.7 1389.8,1489.8 1390.2,1477.8 1390.6,1508.1 1391.1,1515.2 1391.5,1519.0 1391.9,1522.4 1392.4,1500.7 1392.8,1489.3 1393.2,1524.2 1393.7,1519.2 1394.1,1509.5 1394.5,1503.9 1395.0,1481.8 1395.4,1499.9 1395.8,1518.4 1396.2,1509.2 1396.7,1519.1 1397.1,1474.7 1397.5,1509.6 1398.0,1511.5 1398.4,1514.2 1398.8,1504.3 1399.3,1526.7 1399.7,1486.8 1400.1,1512.0 1400.6,1498.6 1401.0,1507.8 1401.4,1549.7 1401.9,1485.8 1402.3,1502.3 1402.7,1529.9 1403.1,1490.7 1403.6,1499.5 1404.0,1496.4 1404.4,1544.5 1404.9,1477.0 1405.3,1550.5 1405.7,1490.6 1406.2,1501.1 1406.6,1493.2 1407.0,1484.1 1407.5,955.3 1407.9,1488.2 1408.3,1494.3 1408.8,1493.4 1409.2,1486.9 1409.6,1503.7 1410.0,1488.1 1410.5,1543.9 1410.9,1508.4 1411.3,1511.6 1411.8,1503.5 1412.2,1482.9 1412.6,1510.1 1413.1,1530.5 1413.5,1492.8 1413.9,1490.2 1414.4,1483.9 1414.8,1492.1 1415.2,1495.8 1415.7,1481.3 1416.1,1481.2 1416.5,1513.0 1416.9,1490.9 1417.4,1530.0 1417.8,1492.0 1418.2,1510.6 1418.7,1487.5 1419.1,1481.7 1419.5,1490.3 1420.0,1509.1 1420.4,1486.5 1420.8,1525.5 1421.3,1543.3 1421.7,1491.5 1422.1,1482.7 1422.6,1477.7 1423.0,1501.6 1423.4,1519.9 1423.8,1501.4 1424.3,1517.4 1424.7,1545.1 1425.1,1504.6 1425.6,1498.9 1426.0,1501.3 1426.4,1498.3 1426.9,1499.3 1427.3,1502.5 1427.7,1511.7 1428.2,1491.7 1428.6,1502.5 1429.0,1522.2 1429.5,1504.2 1429.9,1494.1 1430.3,1507.1 1430.8,1522.3 1431.2,1530.7 1431.6,1502.2 1432.0,1518.4 1432.5,1477.7 1432.9,1521.2 1433.3,1497.0 1433.8,1507.5 1434.2,1488.8 1434.6,1507.9 1435.1,1515.2 1435.5,1544.7 1435.9,1499.5 1436.4,1505.4 1436.8,1501.4 1437.2,1484.9 1437.7,1498.9 1438.1,1480.0 1438.5,1503.6 1438.9,1493.9 1439.4,1502.9 1439.8,1492.8 1440.2,1505.3 1440.7,1491.2 1441.1,1492.1 1441.5,1489.6 1442.0,1488.7 1442.4,1500.8 1442.8,1503.9 1443.3,1485.9 1443.7,1497.3 1444.1,1544.2 1444.6,1499.2 1445.0,1488.1 1445.4,1493.7 1445.8,1506.9 1446.3,1493.9 1446.7,1491.4 1447.1,1525.5 1447.6,1491.1 1448.0,1489.5 1448.4,1492.0 1448.9,1523.2 1449.3,1544.0 1449.7,1541.4 1450.2,1513.2 1450.6,1497.3 1451.0,1577.9 1451.5,1498.3 1451.9,1523.2 1452.3,1498.3 1452.7,1491.6 1453.2,1500.3 1453.6,1503.3 1454.0,1486.3 1454.5,1499.3 1454.9,1499.2 1455.3,1496.3 1455.8,1488.9 1456.2,1480.8 1456.6,1488.8 1457.1,1491.6 1457.5,1512.7 1457.9,1490.1 1458.4,1504.5 1458.8,1487.9 1459.2,1486.8 1459.6,1501.9 1460.1,1498.5 1460.5,1487.0 1460.9,1501.3 1461.4,1485.6 1461.8,1493.0 1462.2,1503.0 1462.7,1505.3 1463.1,1479.0 1463.5,1495.1 1464.0,1511.6 1464.4,1489.8 1464.8,1486.3 1465.3,1505.6 1465.7,1509.4 1466.1,1488.4 1466.5,1503.2 1467.0,1504.8 1467.4,1535.2 1467.8,1492.2 1468.3,1483.2 1468.7,1486.3 1469.1,1514.1 1469.6,1490.3 1470.0,1501.1 1470.4,1502.9 1470.9,1489.4 1471.3,1480.0 1471.7,1483.0 1472.2,1521.0 1472.6,1483.9 1473.0,1508.2 1473.4,1503.9 1473.9,1504.9 1474.3,1521.3 1474.7,1494.2 1475.2,1495.0 1475.6,1500.0 1476.0,1485.2 1476.5,1502.3 1476.9,1484.0 1477.3,1520.1 1477.8,1509.8 1478.2,1512.6 1478.6,1496.1 1479.1,1485.3 1479.5,1544.0 1479.9,1489.5 1480.3,1510.0 1480.8,1515.4 1481.2,1505.9 1481.6,1486.2 1482.1,1491.1 1482.5,1478.9 1482.9,1535.3 1483.4,1545.1 1483.8,1498.9 1484.2,1521.1 1484.7,1493.4 1485.1,1481.2 1485.5,1501.1 1486.0,1523.3 1486.4,1500.0 1486.8,1491.8 1487.3,1496.6 1487.7,1485.7 1488.1,1495.3 1488.5,1500.5 1489.0,1495.1 1489.4,1510.7 1489.8,1495.0 1490.3,1501.9 1490.7,1563.4 1491.1,1514.9 1491.6,1531.9 1492.0,1490.6 1492.4,1544.2 1492.9,1491.0 1493.3,1489.1 1493.7,1478.4 1494.2,1505.3 1494.6,1496.5 1495.0,1504.9 1495.4,1543.6 1495.9,1499.2 1496.3,1504.5 1496.7,1489.5 1497.2,1491.9 1497.6,1491.4 1498.0,1494.0 1498.5,1545.6 1498.9,1494.9 1499.3,1513.4 1499.8,1527.9 1500.2,1484.1 1500.6,1510.8 1501.1,1505.7 1501.5,1491.6 1501.9,1495.0 1502.3,1485.1 1502.8,1508.5 1503.2,1524.9 1503.6,1517.9 1504.1,1504.7 1504.5,1507.3 1504.9,1478.7 1505.4,1501.0 1505.8,1487.1 1506.2,1496.6 1506.7,1485.5 1507.1,1514.4 1507.5,1493.0 1508.0,1496.1 1508.4,1480.8 1508.8,1515.2 1509.2,1490.9 1509.7,1506.0 1510.1,1517.9 1510.5,1542.1 1511.0,1522.7 1511.4,1496.7 1511.8,1531.6 1512.3,1481.0 1512.7,1497.4 1513.1,1487.0 1513.6,1502.8 1514.0,1485.1 1514.4,1485.3 1514.9,1484.4 1515.3,1508.0 1515.7,1493.1 1516.1,1519.8 1516.6,1516.4 1517.0,1480.3 1517.4,1491.2 1517.9,1481.5 1518.3,1480.8 1518.7,1523.9 1519.2,1518.8 1519.6,1486.2 1520.0,1490.8 1520.5,1510.2 1520.9,1510.4 1521.3,1486.0 1521.8,1501.7 1522.2,1510.6 1522.6,1478.9 1523.0,1509.6 1523.5,1512.0 1523.9,1522.6 1524.3,1474.1 1524.8,1517.0 1525.2,1488.6 1525.6,1516.1 1526.1,1503.6 1526.5,1498.9 1526.9,1479.0 1527.4,1476.2 1527.8,1491.9 1528.2,1486.2 1528.7,1565.9 1529.1,1511.7 1529.5,1493.8 1529.9,1486.8 1530.4,1497.3 1530.8,1495.7 1531.2,1501.1 1531.7,1490.8 1532.1,1501.7 1532.5,1513.8 1533.0,1494.2 1533.4,1517.6 1533.8,1482.5 1534.3,1522.0 1534.7,1479.3 1535.1,1488.8 1535.6,1496.1 1536.0,1489.0 1536.4,1503.5 1536.8,1478.8 1537.3,1504.3 1537.7,1539.9 1538.1,1504.8 1538.6,1508.8 1539.0,1493.6 1539.4,1533.9 1539.9,1488.4 1540.3,1487.6 1540.7,1498.7 1541.2,1515.0 1541.6,1559.1 1542.0,1509.3 1542.5,1481.0 1542.9,1483.8 1543.3,1494.7 1543.8,1502.1 1544.2,1510.9 1544.6,1493.3 1545.0,1527.9 1545.5,1496.3 1545.9,1481.3 1546.3,1488.1 1546.8,1485.1 1547.2,1495.5 1547.6,1497.6 1548.1,1507.3 1548.5,1506.4 1548.9,1532.4 1549.4,1507.5 1549.8,1503.4 1550.2,1479.8 1550.7,1522.9 1551.1,1512.5 1551.5,1504.4 1551.9,1500.9 1552.4,1519.0 1552.8,1511.1 1553.2,1485.8 1553.7,1491.4 1554.1,1508.8 1554.5,1543.2 1555.0,1484.3 1555.4,1498.3 1555.8,1488.8 1556.3,1547.5 1556.7,1499.1 1557.1,1501.1 1557.6,1495.0 1558.0,1503.6 1558.4,1488.8 1558.8,1502.1 1559.3,1485.8 1559.7,1542.5 1560.1,1523.0 1560.6,1481.2 1561.0,1504.9 1561.4,1481.0 1561.9,1509.0 1562.3,1488.4 1562.7,1514.0 1563.2,1488.3 1563.6,1500.7 1564.0,1497.6 1564.5,1486.7 1564.9,1506.6 1565.3,1491.5 1565.7,1490.0 1566.2,1489.6 1566.6,1498.0 1567.0,1506.6 1567.5,1490.2 1567.9,1483.6 1568.3,1506.4 1568.8,1505.1 1569.2,1490.8 1569.6,1492.6 1570.1,1486.5 1570.5,1517.6 1570.9,1490.2 1571.4,1510.8 1571.8,1497.7 1572.2,1490.2 1572.6,1489.5 1573.1,1489.0 1573.5,1497.3 1573.9,1544.0 1574.4,1520.3 1574.8,1489.3 1575.2,1489.2 1575.7,1503.7 1576.1,1493.4 1576.5,1500.0 1577.0,1499.0 1577.4,1516.1 1577.8,1495.9 1578.3,1487.1 1578.7,1496.2 1579.1,1507.0 1579.5,1501.1 1579.5,1003.3 1580.4,1494.8 1580.8,1491.2 1581.3,1536.7 1581.7,1541.0 1582.1,1503.0 1582.6,1528.8 1583.0,1494.2 1583.4,1532.7 1583.9,1502.1 1584.3,1530.1 1584.7,1520.9 1585.2,1489.0 1585.6,1516.9 1586.0,1495.1 1586.4,1543.3 1586.9,1506.0 1587.3,1503.1 1587.7,1493.5 1588.2,1495.6 1588.6,1510.4 1589.0,1486.4 1589.5,1482.9 1589.9,1474.5 1590.3,1522.1 1590.8,1543.9 1591.2,1514.4 1591.6,1514.4 1592.1,1516.9 1592.5,1514.6 1592.9,1520.9 1593.4,1490.5 1593.8,1497.0 1594.2,1492.9 1594.6,1491.8 1595.1,1520.7 1595.5,1480.1 1595.9,1481.2 1596.4,1496.5 1596.8,1492.7 1597.2,1515.6 1597.7,1495.8 1598.1,1489.0 1598.5,1507.5 1599.0,1492.2 1599.4,1504.6 1599.8,1488.9 1600.3,1482.1 1600.7,1482.8 1601.1,1489.5 1601.5,1488.8 1602.0,1486.5 1602.4,1506.8 1602.8,1536.0 1603.3,1493.9 1603.7,1481.3 1604.1,1514.3 1604.6,1529.8 1605.0,1495.5 1605.4,1542.2 1605.9,1489.2 1606.3,1502.9 1606.7,1512.7 1607.2,1489.9 1607.6,1495.5 1608.0,1496.1 1608.4,1503.0 1608.9,1490.4 1609.3,1489.8 1609.7,1489.9 1610.2,1503.8 1610.6,1514.7 1611.0,1490.1 1611.5,1511.6 1611.9,1488.9 1612.3,1523.8 1612.8,1515.9 1613.2,1502.1 1613.6,1492.9 1614.1,1513.1 1614.5,1521.6 1614.9,1503.6 1615.3,1494.7 1615.8,1531.6 1616.2,1481.8 1616.6,1502.1 1617.1,1490.2 1617.5,1522.5 1617.9,1492.1 1618.4,1518.6 1618.8,1506.2 1619.2,1475.1 1619.7,1508.2 1620.1,1487.2 1620.5,1526.2 1621.0,1544.5 1621.4,1499.8 1621.8,1469.9 1622.2,1500.0 1622.7,1492.5 1623.1,1497.2 1623.5,1606.0 1624.0,1492.4 1624.4,1486.6 1624.8,1487.2 1625.3,1516.3 1625.7,1513.4 1626.1,1507.0 1626.6,1490.0 1627.0,1495.9 1627.4,1519.3 1627.9,1506.3 1628.3,1492.7 1628.7,1492.2 1629.1,1501.8 1629.6,1487.4 1630.0,1501.2 1630.4,1492.9 1630.9,1487.7 1631.3,1515.3 1631.7,1498.1 1632.2,1477.3 1632.6,1516.8 1633.0,1517.3 1633.5,1515.7 1633.9,1501.5 1634.3,1477.5 1634.8,1543.2 1635.2,1491.6 1635.6,1511.8 1636.0,1500.2 1636.5,1504.2 1636.9,1486.7 1637.3,1514.8 1637.8,1487.0 1638.2,1480.5 1638.6,1515.9 1639.1,1509.2 1639.5,1543.3 1639.9,1484.1 1640.4,1509.1 1640.8,1542.8 1641.2,1490.6 1641.7,1486.2 1642.1,1499.3 1642.5,1546.4 1642.9,1516.2 1643.4,1525.8 1643.8,1522.2 1644.2,1495.4 1644.7,1501.4 1645.1,1507.4 1645.5,1508.1 1646.0,1510.5 1646.4,1533.4 1646.8,1496.1 1647.3,1489.5 1647.7,1514.1 1648.1,1501.7 1648.6,1505.4 1649.0,1493.9 1649.4,1528.2 1649.9,1476.8 1650.3,1486.6 1650.7,1489.0 1651.1,1483.5 1651.6,1488.2 1652.0,1489.6 1652.4,1487.8 1652.9,1494.2 1653.3,1485.5 1653.7,1489.3 1654.2,1495.6 1654.6,1481.1 1655.0,1528.4 1655.5,1537.1 1655.9,1505.5 1656.3,1512.9 1656.8,1491.9 1657.2,1505.2 1657.6,1514.0 1658.0,1488.8 1658.5,1522.8 1658.9,1495.3 1659.3,1490.0 1659.8,1490.4 1660.2,1496.3 1660.6,1502.8 1661.1,1492.4 1661.5,1509.7 1661.9,1494.7 1662.4,1512.9 1662.8,1491.2 1663.2,1500.9 1663.7,1485.8 1664.1,1490.2 1664.5,1490.7 1664.9,1486.1 1665.4,1492.3 1665.8,1564.7 1666.2,1487.4 1666.7,1489.1 1667.1,1479.2 1667.5,1538.8 1668.0,1506.5 1668.4,1476.6 1668.8,1511.8 1669.3,1515.7 1669.7,1498.0 1670.1,1477.2 1670.6,1481.4 1671.0,1508.3 1671.4,1504.1 1671.8,1494.8 1672.3,1494.1 1672.7,1508.5 1673.1,1505.6 1673.6,1512.4 1674.0,1487.5 1674.4,1493.8 1674.9,1501.1 1675.3,1516.0 1675.7,1539.5 1676.2,1485.0 1676.6,1514.8 1677.0,1497.8 1677.5,1567.8 1677.9,1493.4 1678.3,1480.2 1678.7,1482.8 1679.2,1492.0 1679.6,1494.7 1680.0,1505.4 1680.5,1481.0 1680.9,1529.5 1681.3,1493.7 1681.8,1527.0 1682.2,1500.4 1682.6,1486.5 1683.1,1524.1 1683.5,1482.2 1683.9,1512.8 1684.4,1487.3 1684.8,1487.6 1685.2,1543.8 1685.6,1496.1 1686.1,1540.2 1686.5,1496.5 1686.9,1503.2 1687.4,1489.6 1687.8,1522.5 1688.2,1494.0 1688.7,1490.0 1689.1,1543.9 1689.5,1477.2 1690.0,1490.5 1690.4,1500.8 1690.8,1535.2 1691.3,1488.4 1691.7,1496.4 1692.1,1511.1 1692.5,1492.4 1693.0,1543.7 1693.4,1476.6 1693.8,1488.0 1694.3,1508.3 1694.7,1486.0 1695.1,1480.8 1695.6,1507.8 1696.0,1478.2 1696.4,1527.5 1696.9,1488.9 1697.3,1480.6 1697.7,1543.9 1698.2,1488.2 1698.6,1496.2 1699.0,1538.0 1699.5,1516.4 1699.9,1504.8 1700.3,1518.5 1700.7,1494.0 1701.2,1494.6 1701.6,1498.4 1702.0,1485.2 1702.5,1496.0 1702.9,1522.4 1703.3,1481.9 1703.8,1490.6 1704.2,1511.8 1704.6,1489.7 1705.1,1490.9 1705.5,1496.6 1705.9,1514.2 1706.4,1509.1 1706.8,1508.1 1707.2,1565.9 1707.6,1504.7 1708.1,1479.5 1708.5,1478.5 1708.9,1493.0 1709.4,1527.5 1709.8,1480.8 1710.2,1492.3 1710.7,1544.7 1711.1,1509.8 1711.5,1477.7 1712.0,1494.0 1712.4,1484.3 1712.8,1505.9 1713.3,1521.6 1713.7,1508.8 1714.1,1489.4 1714.5,1498.2 1715.0,1490.5 1715.4,1488.6 1715.8,1503.7 1716.3,1561.0 1716.7,1515.0 1717.1,1482.0 1717.6,1502.0 1718.0,1540.5 1718.4,1510.2 1718.9,1487.2 1719.3,1508.1 1719.7,1488.8 1720.2,1545.7 1720.6,1493.5 1721.0,1492.2 1721.4,1524.2 1721.9,1486.5 1722.3,1505.3 1722.7,1506.3 1723.2,1484.4 1723.6,1513.8 1724.0,1509.3 1724.5,1496.1 1724.9,1544.2 1725.3,1505.0 1725.8,1503.2 1726.2,1506.5 1726.6,1501.0 1727.1,1504.9 1727.5,1476.9 1727.9,1477.0 1728.3,1508.9 1728.8,1502.4 1729.2,1478.2 1729.6,1500.3 1730.1,1495.0 1730.5,1516.7 1730.9,1499.2 1731.4,1506.9 1731.8,1501.4 1732.2,1500.8 1732.7,1490.1 1733.1,1498.7 1733.5,1486.3 1734.0,1536.3 1734.4,1481.0 1734.8,1489.3 1735.2,1502.4 1735.7,1481.4 1736.1,1513.7 1736.5,1489.6 1737.0,1493.5 1737.4,1489.2 1737.8,1485.2 1738.3,1491.9 1738.7,1489.4 1739.1,1493.1 1739.6,1502.7 1740.0,1514.1 1740.4,1487.6 1740.9,1483.8 1741.3,1502.4 1741.7,1501.1 1742.1,1489.4 1742.6,1483.5 1743.0,1492.0 1743.4,1523.3 1743.9,1533.1 1744.3,1503.6 1744.7,1525.6 1745.2,1487.3 1745.6,1528.9 1746.0,1485.2 1746.5,1494.9 1746.9,1509.1 1747.3,1488.6 1747.8,1484.0 1748.2,1544.5 1748.6,1520.8 1749.0,1480.2 1749.5,1508.7 1749.9,1513.7 1750.3,1538.7 1750.8,1487.4 1751.2,1544.4 1751.6,1503.7 1752.1,1487.9 1752.5,1035.4 1752.9,1482.2 1753.4,1488.0 1753.8,1540.3 1754.2,1478.0 1754.7,1483.8 1755.1,1510.8 1755.5,1492.3 1756.0,1514.7 1756.4,1522.6 1756.8,1485.2 1757.2,1482.4 1757.7,1480.3 1758.1,1480.5 1758.5,1488.8 1759.0,1497.0 1759.4,1519.8 1759.8,1499.5 1760.3,1487.1 1760.7,1508.6 1761.1,1486.2 1761.6,1477.4 1762.0,1504.2 1762.4,1506.2 1762.9,1508.1 1763.3,1545.1 1763.7,1499.4 1764.1,1486.8 1764.6,1497.7 1765.0,1520.2 1765.4,1489.6 1765.9,1478.2 1766.3,1493.7 1766.7,1504.6 1767.2,1486.0 1767.6,1507.0 1768.0,1491.6 1768.5,1496.5 1768.9,1481.6 1769.3,1495.5 1769.8,1501.9 1770.2,1506.5 1770.6,1497.3 1771.0,1474.7 1771.5,1485.3 1771.9,1514.9 1772.3,1492.9 1772.8,1488.7 1773.2,1533.2 1773.6,1503.9 1774.1,1497.1 1774.5,1497.5 1774.9,1513.7 1775.4,1501.8 1775.8,1497.0 1776.2,1483.5 1776.7,1474.3 1777.1,1537.0 1777.5,1495.3 1777.9,1481.3 1778.4,1501.7 1778.8,1496.6 1779.2,1498.7 1779.7,1488.0 1780.1,1509.2 1780.5,1507.3 1781.0,1482.5 1781.4,1507.4 1781.8,1535.9 1782.3,1487.4 1782.7,1480.4 1783.1,1493.2 1783.6,1506.4 1784.0,1503.2 1784.4,1489.1 1784.8,1491.6 1785.3,1488.6 1785.7,1520.0 1786.1,1519.1 1786.6,1486.7 1787.0,1487.6 1787.4,1495.4 1787.9,1485.8 1788.3,1496.1 1788.7,1489.3 1789.2,1492.8 1789.6,1485.8 1790.0,1488.4 1790.5,1475.5 1790.9,1517.9 1791.3,1484.1 1791.7,1483.2 1792.2,1519.1 1792.6,1477.9 1793.0,1493.6 1793.5,1506.3 1793.9,1499.5 1794.3,1517.6 1794.8,1491.8 1795.2,1487.2 1795.6,1480.5" fill="none" stroke="#FD3C3C" stroke-width="4.8" stroke-linejoin="round" stroke-linecap="round" clip-path="url(#cb)"/>
<polyline points="371.2,1521.5 371.6,1512.3 372.1,1506.4 372.5,1482.6 372.9,1497.7 373.4,1486.5 373.8,1493.6 374.2,1510.8 374.7,1497.8 375.1,1503.8 375.5,1542.1 375.9,1517.3 376.4,1551.4 376.8,1494.3 377.2,1490.8 377.7,1494.8 378.1,1491.8 378.5,1526.2 379.0,1531.4 379.4,1507.7 379.8,1533.3 380.3,1537.1 380.7,1510.5 381.1,1544.8 381.6,1497.3 382.0,1547.4 382.4,1498.1 382.8,1495.7 383.3,1532.5 383.7,1480.5 384.1,1505.8 384.6,1492.6 385.0,1498.6 385.4,1487.1 385.9,1482.3 386.3,1496.1 386.7,1594.3 387.2,1515.0 387.6,1501.6 388.0,1485.6 388.5,1502.1 388.9,1510.6 389.3,1520.3 389.7,1485.5 390.2,1489.6 390.6,1501.4 391.0,1500.5 391.5,1535.1 391.9,1487.4 392.3,1497.5 392.8,1499.1 393.2,1501.0 393.6,1492.0 394.1,1495.3 394.5,1491.8 394.9,1496.3 395.4,1523.9 395.8,1506.9 396.2,1521.6 396.6,1523.1 397.1,1500.7 397.5,1486.6 397.9,1536.4 398.4,1486.5 398.8,1488.9 399.2,1507.0 399.7,1482.7 400.1,1515.0 400.5,1568.3 401.0,1494.2 401.4,1466.7 401.8,1498.1 402.3,1528.1 402.7,1482.2 403.1,1482.6 403.5,1514.0 404.0,1515.5 404.4,1537.3 404.8,1513.2 405.3,1488.5 405.7,1510.6 406.1,1489.6 406.6,1491.0 407.0,1521.1 407.4,1484.9 407.9,1500.1 408.3,1481.9 408.7,1517.1 409.2,1484.4 409.6,1571.9 410.0,1497.9 410.4,1525.3 410.9,1494.3 411.3,1520.2 411.7,1509.8 412.2,1506.8 412.6,1496.2 413.0,1495.5 413.5,1491.7 413.9,1524.2 414.3,1511.6 414.8,1488.8 415.2,1503.4 415.6,1518.3 416.1,1485.2 416.5,1526.5 416.9,1517.9 417.3,1512.8 417.8,1525.4 418.2,1543.8 418.6,1494.9 419.1,1492.7 419.5,1533.7 419.9,1487.7 420.4,1500.1 420.8,1489.0 421.2,1495.4 421.7,1530.3 422.1,1502.6 422.5,1530.2 423.0,1489.2 423.4,1500.7 423.8,1520.5 424.2,1526.4 424.7,1490.9 425.1,1509.5 425.5,1506.0 426.0,1504.5 426.4,1520.3 426.8,1491.7 427.3,1563.4 427.7,1515.0 428.1,1513.8 428.6,1496.6 429.0,1535.8 429.4,1493.2 429.9,1502.0 430.3,1507.1 430.7,1493.1 431.2,1523.9 431.6,1531.1 432.0,1490.8 432.4,1493.9 432.9,1518.1 433.3,1478.2 433.7,1497.7 434.2,1517.6 434.6,1492.8 435.0,1498.2 435.5,1515.3 435.9,1499.4 436.3,1518.5 436.8,1494.3 437.2,1506.9 437.6,1489.2 438.1,1501.2 438.5,1536.2 438.9,1514.5 439.3,1495.5 439.8,1549.8 440.2,1481.8 440.6,1500.8 441.1,1516.7 441.5,1496.3 441.9,1502.8 442.4,1538.7 442.8,1487.3 443.2,1508.4 443.7,1496.2 444.1,1516.8 444.5,1504.8 445.0,1508.1 445.4,1486.8 445.8,1541.4 446.2,1491.4 446.7,1496.7 447.1,1486.6 447.5,1495.6 448.0,1525.4 448.4,1510.6 448.8,1504.6 449.3,1494.1 449.7,1519.2 450.1,1515.0 450.6,1556.2 451.0,1515.0 451.4,1494.1 451.9,1489.1 452.3,1500.3 452.7,1480.5 453.1,1535.7 453.6,1491.6 454.0,1510.4 454.4,1494.3 454.9,1509.1 455.3,1493.1 455.7,1525.5 456.2,1494.2 456.6,1488.8 457.0,1507.5 457.5,1043.3 457.9,1525.0 458.3,1503.4 458.8,1518.1 459.2,1502.9 459.6,1556.2 460.0,1485.6 460.5,1498.7 460.9,1493.6 461.3,1494.4 461.8,1496.7 462.2,1487.5 462.6,1487.2 463.1,1505.6 463.5,1510.6 463.9,1495.7 464.4,1504.3 464.8,1489.4 465.2,1544.8 465.7,1492.8 466.1,1497.1 466.5,1501.8 466.9,1512.7 467.4,1516.1 467.8,1501.8 468.2,1530.7 468.7,1495.4 469.1,1520.5 469.5,1487.4 470.0,1508.5 470.4,1511.9 470.8,1499.1 471.3,1506.7 471.7,1496.1 472.1,1526.4 472.6,1523.8 473.0,1511.2 473.4,1530.4 473.8,1496.8 474.3,1493.6 474.7,1501.8 475.1,1480.0 475.6,1500.1 476.0,1511.3 476.4,1516.8 476.9,1491.9 477.3,1491.7 477.7,1512.8 478.2,1500.3 478.6,1495.7 479.0,1484.2 479.5,1489.8 479.9,1501.1 480.3,1490.0 480.8,1482.6 481.2,1502.5 481.6,1528.7 482.0,1517.4 482.5,1496.0 482.9,1492.8 483.3,1485.1 483.8,1485.8 484.2,1489.5 484.6,1513.3 485.1,1510.9 485.5,1559.8 485.9,1485.6 486.4,1494.3 486.8,1522.9 487.2,1509.8 487.7,1527.6 488.1,1493.7 488.5,1484.5 488.9,1541.2 489.4,1519.6 489.8,1498.4 490.2,1498.3 490.7,1480.3 491.1,1514.6 491.5,1588.8 492.0,1494.5 492.4,1495.8 492.8,1483.7 493.3,1502.3 493.7,1532.3 494.1,1511.9 494.6,1519.3 495.0,1546.3 495.4,1492.6 495.8,1507.9 496.3,1496.5 496.7,1499.8 497.1,1505.1 497.6,1555.0 498.0,1505.9 498.4,1500.8 498.9,1496.5 499.3,1492.1 499.7,1503.2 500.2,1495.8 500.6,1511.3 501.0,1506.3 501.5,1500.4 501.9,1486.0 502.3,1486.6 502.7,1549.1 503.2,1488.9 503.6,1491.3 504.0,1486.1 504.5,1500.4 504.9,1487.5 505.3,1495.1 505.8,1514.4 506.2,1495.1 506.6,1481.7 507.1,1538.0 507.5,1512.0 507.9,1549.5 508.4,1490.4 508.8,1504.0 509.2,1503.4 509.6,1515.3 510.1,1498.3 510.5,1510.4 510.9,1515.6 511.4,1494.8 511.8,1537.4 512.2,1493.9 512.7,1501.2 513.1,1511.6 513.5,1522.6 514.0,1482.1 514.4,1492.7 514.8,1511.4 515.3,1492.0 515.7,1502.4 516.1,1503.8 516.5,1512.2 517.0,1555.0 517.4,1495.1 517.8,1498.7 518.3,1493.6 518.7,1513.5 519.1,1492.3 519.6,1488.2 520.0,1528.8 520.4,1526.2 520.9,1512.3 521.3,1526.6 521.7,1492.8 522.2,1503.5 522.6,1506.5 523.0,1514.6 523.4,1497.9 523.9,1514.9 524.3,1498.7 524.7,1502.0 525.2,1493.4 525.6,1512.7 526.0,1502.1 526.5,1520.0 526.9,1496.4 527.3,1544.4 527.8,1497.8 528.2,1488.7 528.6,1544.4 529.1,1531.9 529.5,1510.6 529.9,1507.6 530.3,1488.8 530.8,1508.9 531.2,1562.2 531.6,1507.0 532.1,1508.2 532.5,1497.4 532.9,1543.6 533.4,1516.5 533.8,1487.6 534.2,1499.1 534.7,1490.6 535.1,1520.1 535.5,1494.0 536.0,1492.7 536.4,1502.4 536.8,1498.0 537.3,1510.4 537.7,1504.1 538.1,1490.2 538.5,1515.1 539.0,1494.1 539.4,1520.3 539.8,1484.6 540.3,1490.7 540.7,1486.7 541.1,1521.9 541.6,1494.9 542.0,1491.7 542.4,1494.4 542.9,1501.3 543.3,1490.0 543.7,1514.0 544.2,1492.7 544.6,1496.8 545.0,1503.8 545.4,1529.3 545.9,1490.7 546.3,1485.4 546.7,1493.5 547.2,1492.4 547.6,1490.2 548.0,1494.9 548.5,1514.7 548.9,1491.1 549.3,1506.5 549.8,1520.8 550.2,1490.5 550.6,1483.3 551.1,1511.0 551.5,1553.8 551.9,1517.8 552.3,1495.6 552.8,1522.3 553.2,1501.2 553.6,1506.4 554.1,1508.3 554.5,1512.5 554.9,1498.5 555.4,1515.9 555.8,1510.0 556.2,1513.3 556.7,1498.2 557.1,1501.7 557.5,1514.7 558.0,1505.5 558.4,1493.4 558.8,1524.3 559.2,1483.1 559.7,1495.6 560.1,1553.8 560.5,1512.8 561.0,1488.7 561.4,1543.5 561.8,1496.5 562.3,1482.1 562.7,1497.0 563.1,1487.9 563.6,1523.6 564.0,1501.2 564.4,1534.5 564.9,1513.1 565.3,1513.0 565.7,1524.2 566.1,1499.2 566.6,1495.5 567.0,1525.3 567.4,1517.1 567.9,1543.2 568.3,1511.8 568.7,1524.7 569.2,1507.5 569.6,1519.8 570.0,1499.7 570.5,1503.4 570.9,1489.0 571.3,1488.7 571.8,1488.2 572.2,1534.8 572.6,1504.1 573.0,1510.3 573.5,1486.1 573.9,1535.1 574.3,1517.9 574.8,1489.1 575.2,1491.9 575.6,1487.4 576.1,1495.0 576.5,1507.5 576.9,1496.0 577.4,1504.1 577.8,1496.7 578.2,1503.3 578.7,1517.7 579.1,1500.5 579.5,1494.0 579.9,1505.8 580.4,1484.7 580.8,1518.4 581.2,1525.9 581.7,1482.7 582.1,1515.1 582.5,1527.7 583.0,1490.7 583.4,1512.8 583.8,1498.1 584.3,1506.1 584.7,1544.8 585.1,1535.5 585.6,1492.3 586.0,1490.9 586.4,1531.3 586.9,1498.5 587.3,1519.8 587.7,1511.3 588.1,1493.8 588.6,1503.4 589.0,1530.3 589.4,1480.0 589.9,1497.7 590.3,1541.6 590.7,1505.8 591.2,1518.4 591.6,1501.5 592.0,1533.4 592.5,1515.3 592.9,1495.6 593.3,1535.6 593.8,1491.4 594.2,1543.3 594.6,1523.0 595.0,1515.0 595.5,1553.3 595.9,1515.0 596.3,1510.7 596.8,1488.9 597.2,1493.9 597.6,1496.7 598.1,1534.7 598.5,1516.3 598.9,1488.3 599.4,1487.6 599.8,1514.8 600.2,1491.9 600.7,1489.2 601.1,1523.1 601.5,1478.1 601.9,1503.4 602.4,1492.8 602.8,1520.1 603.2,1497.6 603.7,1489.2 604.1,1521.6 604.5,1519.1 605.0,1520.6 605.4,1510.6 605.8,1488.9 606.3,1505.4 606.7,1517.0 607.1,1489.3 607.6,1505.5 608.0,1491.0 608.4,1508.4 608.8,1523.5 609.3,1511.4 609.7,1517.2 610.1,1485.0 610.6,1486.3 611.0,1501.5 611.4,1500.7 611.9,1522.8 612.3,1494.8 612.7,1495.5 613.2,1493.2 613.6,1509.7 614.0,1504.6 614.5,1496.0 614.9,1519.2 615.3,1512.3 615.7,1509.0 616.2,1494.4 616.6,1506.6 617.0,1523.1 617.5,1487.0 617.9,1508.2 618.3,1518.9 618.8,1510.1 619.2,1490.7 619.6,1489.4 620.1,1491.7 620.5,1495.6 620.9,1527.1 621.4,1504.6 621.8,1503.4 622.2,1497.0 622.6,1478.1 623.1,1488.3 623.5,1502.1 623.9,1519.5 624.4,1535.0 624.8,1485.6 625.2,1504.0 625.7,1505.9 626.1,1497.4 626.5,1517.5 627.0,1504.8 627.4,1504.8 627.8,1501.1 628.3,1506.2 628.7,1541.8 629.1,1492.3 629.5,1493.0 630.5,1246.3 630.4,1491.8 630.8,1488.0 631.3,1485.6 631.7,1484.4 632.1,1544.2 632.6,1514.7 633.0,1495.2 633.4,1489.6 633.9,1506.5 634.3,1527.2 634.7,1484.1 635.2,1497.5 635.6,1513.7 636.0,1534.0 636.4,1495.8 636.9,1507.3 637.3,1573.1 637.7,1500.7 638.2,1492.7 638.6,1504.0 639.0,1488.7 639.5,1545.7 639.9,1486.9 640.3,1498.4 640.8,1500.7 641.2,1506.6 641.6,1531.8 642.1,1516.7 642.5,1503.6 642.9,1511.0 643.4,1517.4 643.8,1509.1 644.2,1515.8 644.6,1494.9 645.1,1524.6 645.5,1490.5 645.9,1501.6 646.4,1531.1 646.8,1505.1 647.2,1480.5 647.7,1499.0 648.1,1484.2 648.5,1496.1 649.0,1510.3 649.4,1497.4 649.8,1505.3 650.3,1543.7 650.7,1512.1 651.1,1491.5 651.5,1493.3 652.0,1487.4 652.4,1508.2 652.8,1494.1 653.3,1481.7 653.7,1495.7 654.1,1493.2 654.6,1520.9 655.0,1490.3 655.4,1504.4 655.9,1490.3 656.3,1493.3 656.7,1501.7 657.2,1487.7 657.6,1486.1 658.0,1503.1 658.4,1487.9 658.9,1510.8 659.3,1499.0 659.7,1500.2 660.2,1482.8 660.6,1485.8 661.0,1492.8 661.5,1503.2 661.9,1491.0 662.3,1512.8 662.8,1494.3 663.2,1489.1 663.6,1510.3 664.1,1553.8 664.5,1499.3 664.9,1489.6 665.3,1506.1 665.8,1487.1 666.2,1502.6 666.6,1492.5 667.1,1486.9 667.5,1543.3 667.9,1493.6 668.4,1495.0 668.8,1510.6 669.2,1515.9 669.7,1525.6 670.1,1510.1 670.5,1484.9 671.0,1511.1 671.4,1498.2 671.8,1506.4 672.2,1513.7 672.7,1546.6 673.1,1488.1 673.5,1496.5 674.0,1506.1 674.4,1491.8 674.8,1496.2 675.3,1505.9 675.7,1494.8 676.1,1515.7 676.6,1497.1 677.0,1486.9 677.4,1492.5 677.9,1517.5 678.3,1517.7 678.7,1509.5 679.1,1520.7 679.6,1519.5 680.0,1512.4 680.4,1499.4 680.9,1506.7 681.3,1485.8 681.7,1525.1 682.2,1495.2 682.6,1521.0 683.0,1502.5 683.5,1513.9 683.9,1499.5 684.3,1500.5 684.8,1519.0 685.2,1491.8 685.6,1495.2 686.0,1494.9 686.5,1491.8 686.9,1509.8 687.3,1489.2 687.8,1493.8 688.2,1496.0 688.6,1544.4 689.1,1528.9 689.5,1497.5 689.9,1492.0 690.4,1504.8 690.8,1505.5 691.2,1530.2 691.7,1528.2 692.1,1506.3 692.5,1495.0 692.9,1497.6 693.4,1483.2 693.8,1495.9 694.2,1515.1 694.7,1486.1 695.1,1484.9 695.5,1515.0 696.0,1486.0 696.4,1508.9 696.8,1487.5 697.3,1511.1 697.7,1505.2 698.1,1501.0 698.6,1509.7 699.0,1509.1 699.4,1482.8 699.9,1512.8 700.3,1486.8 700.7,1511.9 701.1,1527.1 701.6,1512.3 702.0,1511.1 702.4,1481.2 702.9,1506.0 703.3,1485.4 703.7,1516.6 704.2,1496.5 704.6,1535.9 705.0,1531.7 705.5,1543.5 705.9,1475.8 706.3,1490.7 706.8,1507.7 707.2,1491.5 707.6,1575.5 708.0,1515.0 708.5,1489.0 708.9,1492.0 709.3,1495.7 709.8,1482.6 710.2,1496.5 710.6,1487.6 711.1,1500.4 711.5,1510.6 711.9,1488.6 712.4,1486.1 712.8,1532.6 713.2,1529.0 713.7,1499.5 714.1,1547.1 714.5,1496.5 714.9,1507.9 715.4,1495.1 715.8,1499.0 716.2,1503.6 716.7,1528.1 717.1,1495.2 717.5,1531.0 718.0,1500.6 718.4,1516.3 718.8,1517.0 719.3,1478.9 719.7,1505.1 720.1,1510.9 720.6,1499.6 721.0,1513.8 721.4,1535.3 721.8,1511.6 722.3,1527.6 722.7,1546.6 723.1,1510.5 723.6,1525.4 724.0,1489.3 724.4,1495.1 724.9,1518.3 725.3,1538.4 725.7,1526.7 726.2,1485.2 726.6,1495.8 727.0,1507.8 727.5,1512.0 727.9,1509.4 728.3,1494.3 728.7,1502.6 729.2,1512.9 729.6,1493.3 730.0,1521.5 730.5,1486.8 730.9,1502.6 731.3,1507.8 731.8,1506.1 732.2,1492.2 732.6,1493.9 733.1,1492.4 733.5,1517.3 733.9,1492.1 734.4,1501.3 734.8,1548.1 735.2,1499.6 735.6,1497.9 736.1,1517.9 736.5,1501.6 736.9,1533.4 737.4,1515.0 737.8,1549.0 738.2,1516.7 738.7,1506.5 739.1,1501.6 739.5,1485.9 740.0,1493.9 740.4,1513.6 740.8,1497.4 741.3,1506.7 741.7,1484.9 742.1,1519.4 742.5,1497.9 743.0,1544.9 743.4,1517.4 743.8,1517.6 744.3,1518.0 744.7,1498.9 745.1,1486.7 745.6,1484.4 746.0,1500.7 746.4,1523.5 746.9,1507.5 747.3,1504.4 747.7,1513.6 748.2,1494.7 748.6,1523.4 749.0,1509.3 749.5,1523.3 749.9,1482.1 750.3,1491.2 750.7,1518.3 751.2,1516.7 751.6,1503.0 752.0,1519.5 752.5,1498.5 752.9,1519.9 753.3,1561.0 753.8,1501.0 754.2,1489.2 754.6,1492.9 755.1,1510.2 755.5,1483.9 755.9,1490.1 756.4,1484.9 756.8,1506.8 757.2,1528.4 757.6,1480.8 758.1,1507.5 758.5,1513.9 758.9,1491.9 759.4,1495.4 759.8,1497.9 760.2,1486.2 760.7,1544.2 761.1,1502.4 761.5,1490.6 762.0,1495.3 762.4,1487.7 762.8,1510.2 763.3,1495.6 763.7,1496.3 764.1,1483.0 764.5,1496.1 765.0,1487.5 765.4,1503.4 765.8,1488.0 766.3,1491.0 766.7,1509.1 767.1,1484.4 767.6,1489.2 768.0,1539.3 768.4,1513.5 768.9,1491.0 769.3,1491.3 769.7,1526.9 770.2,1507.4 770.6,1509.9 771.0,1500.8 771.4,1482.3 771.9,1500.5 772.3,1500.6 772.7,1500.0 773.2,1514.8 773.6,1503.8 774.0,1506.8 774.5,1549.0 774.9,1503.8 775.3,1519.5 775.8,1503.9 776.2,1491.2 776.6,1480.2 777.1,1506.7 777.5,1490.7 777.9,1499.5 778.3,1497.7 778.8,1500.1 779.2,1512.7 779.6,1485.0 780.1,1495.6 780.5,1544.9 780.9,1489.7 781.4,1523.4 781.8,1485.1 782.2,1493.7 782.7,1521.5 783.1,1491.0 783.5,1507.7 784.0,1492.2 784.4,1522.6 784.8,1528.1 785.2,1499.7 785.7,1509.8 786.1,1475.8 786.5,1489.9 787.0,1532.9 787.4,1484.8 787.8,1488.9 788.3,1478.3 788.7,1489.6 789.1,1544.4 789.6,1485.5 790.0,1499.6 790.4,1495.0 790.9,1534.2 791.3,1517.6 791.7,1499.3 792.1,1515.0 792.6,1561.0 793.0,1500.8 793.4,1532.5 793.9,1538.4 794.3,1496.8 794.7,1507.9 795.2,1528.5 795.6,1507.5 796.0,1512.7 796.5,1489.9 796.9,1543.5 797.3,1508.0 797.8,1490.8 798.2,1493.1 798.6,1540.4 799.0,1490.2 799.5,1495.4 799.9,1490.6 800.3,1499.3 800.8,1482.2 801.2,1499.6 801.6,1502.2 802.1,1506.9 802.5,1401.4 802.9,1519.7 803.4,1549.0 803.8,1520.4 804.2,1496.4 804.7,1519.1 805.1,1509.5 805.5,1485.2 806.0,1518.9 806.4,1516.6 806.8,1497.3 807.2,1499.3 807.7,1496.6 808.1,1493.3 808.5,1506.9 809.0,1486.4 809.4,1482.6 809.8,1488.8 810.3,1489.1 810.7,1496.8 811.1,1508.6 811.6,1509.7 812.0,1483.3 812.4,1504.7 812.9,1498.9 813.3,1507.4 813.7,1510.7 814.1,1493.5 814.6,1505.0 815.0,1524.6 815.4,1512.2 815.9,1485.5 816.3,1505.9 816.7,1549.7 817.2,1497.1 817.6,1493.3 818.0,1481.0 818.5,1506.3 818.9,1544.0 819.3,1509.0 819.8,1548.3 820.2,1507.7 820.6,1484.3 821.0,1481.5 821.5,1494.2 821.9,1510.5 822.3,1527.8 822.8,1488.6 823.2,1491.4 823.6,1495.1 824.1,1544.1 824.5,1484.2 824.9,1491.9 825.4,1511.6 825.8,1543.6 826.2,1544.0 826.7,1491.5 827.1,1489.9 827.5,1537.5 827.9,1491.2 828.4,1528.8 828.8,1541.7 829.2,1480.8 829.7,1533.9 830.1,1514.2 830.5,1487.2 831.0,1516.1 831.4,1532.1 831.8,1491.9 832.3,1501.0 832.7,1495.1 833.1,1544.9 833.6,1488.4 834.0,1523.9 834.4,1491.3 834.8,1512.2 835.3,1491.0 835.7,1493.6 836.1,1492.4 836.6,1491.7 837.0,1517.8 837.4,1538.8 837.9,1534.7 838.3,1545.3 838.7,1494.0 839.2,1556.2 839.6,1482.6 840.0,1486.0 840.5,1494.4 840.9,1487.8 841.3,1496.3 841.7,1508.7 842.2,1501.5 842.6,1534.1 843.0,1499.6 843.5,1511.2 843.9,1494.8 844.3,1532.2 844.8,1491.0 845.2,1501.2 845.6,1535.3 846.2,1538.6 846.6,1525.2 847.1,1512.2 847.5,1509.8 847.9,1501.2 848.4,1504.4 848.8,1546.4 849.2,1498.7 849.7,1486.5 850.1,1496.3 850.5,1495.5 850.9,1530.1 851.4,1492.3 851.8,1503.8 852.2,1480.1 852.7,1511.5 853.1,1489.3 853.5,1488.3 854.0,1498.0 854.4,1513.5 854.8,1489.3 855.3,1544.4 855.7,1491.4 856.1,1509.3 856.6,1508.9 857.0,1505.4 857.4,1515.6 857.8,1507.2 858.3,1478.4 858.7,1496.9 859.1,1498.1 859.6,1500.5 860.0,1501.8 860.4,1511.5 860.9,1488.6 861.3,1499.4 861.7,1532.6 862.2,1513.7 862.6,1484.7 863.0,1501.8 863.5,1542.1 863.9,1490.7 864.3,1506.3 864.7,1505.5 865.2,1499.8 865.6,1511.5 866.0,1497.7 866.5,1555.7 866.9,1515.0 867.3,1510.0 867.8,1505.3 868.2,1481.4 868.6,1508.2 869.1,1488.3 869.5,1495.8 869.9,1500.1 870.4,1482.3 870.8,1530.0 871.2,1484.0 871.6,1510.6 872.1,1529.1 872.5,1497.8 872.9,1486.4 873.4,1511.4 873.8,1486.2 874.2,1500.4 874.7,1488.9 875.1,1488.4 875.5,1489.6 876.0,1493.1 876.4,1484.3 876.8,1483.7 877.3,1544.7 877.7,1511.9 878.1,1524.6 878.5,1495.9 879.0,1510.4 879.4,1492.2 879.8,1486.7 880.3,1519.2 880.7,1514.0 881.1,1481.7 881.6,1493.6 882.0,1528.4 882.4,1488.0 882.9,1487.2 883.3,1542.7 883.7,1484.3 884.2,1546.8 884.6,1496.2 885.0,1527.0 885.4,1479.8 885.9,1509.6 886.3,1503.3 886.7,1507.2 887.2,1487.6 887.6,1518.2 888.0,1488.5 888.5,1543.3 888.9,1507.5 889.3,1499.4 889.8,1492.9 890.2,1504.3 890.6,1495.6 891.1,1486.5 891.5,1514.4 891.9,1491.8 892.3,1514.8 892.8,1543.5 893.2,1488.1 893.6,1496.2 894.1,1495.4 894.5,1492.1 894.9,1504.5 895.4,1480.8 895.8,1491.6 896.2,1494.8 896.7,1490.6 897.1,1477.7 897.5,1493.5 898.0,1497.0 898.4,1544.9 898.8,1494.5 899.2,1487.4 899.7,1504.8 900.1,1494.0 900.5,1538.3 901.0,1499.2 901.4,1487.5 901.8,1516.3 902.3,1492.3 902.7,1508.5 903.1,1509.8 903.6,1543.5 904.0,1537.9 904.4,1482.2 904.9,1517.3 905.3,1533.4 905.7,1493.9 906.2,1490.2 906.6,1506.7 907.0,1502.0 907.4,1485.0 907.9,1502.5 908.3,1477.2 908.7,1493.6 909.2,1499.4 909.6,1524.8 910.0,1484.8 910.5,1493.5 910.9,1518.0 911.3,1496.9 911.8,1508.0 912.2,1508.6 912.6,1513.5 913.1,1513.5 913.5,1496.7 913.9,1496.0 914.3,1537.5 914.8,1497.4 915.2,1505.4 915.6,1509.7 916.1,1478.7 916.5,1513.9 916.9,1493.3 917.4,1516.1 917.8,1505.4 918.2,1504.6 918.7,1493.9 919.1,1486.8 919.5,1514.6 920.0,1489.6 920.4,1503.2 920.8,1495.0 921.2,1483.0 921.7,1514.6 922.1,1483.1 922.5,1504.2 923.0,1524.3 923.4,1491.9 923.8,1506.0 924.3,1520.2 924.7,1516.7 925.1,1510.7 925.6,1544.0 926.0,1492.3 926.4,1530.7 926.9,1533.9 927.3,1491.7 927.7,1505.5 928.1,1563.4 928.6,1504.0 929.0,1513.0 929.4,1516.0 929.9,1491.8 930.3,1507.9 930.7,1536.0 931.2,1508.9 931.6,1524.5 932.0,1497.4 932.5,975.4 932.9,1507.3 933.3,1498.2 933.8,1490.0 934.2,1531.5 934.6,1505.3 935.0,1506.2 935.5,1544.6 935.9,1523.2 936.3,1546.1 936.8,1488.3 937.2,1517.9 937.6,1513.3 938.1,1519.3 938.5,1529.8 938.9,1527.5 939.4,1506.1 939.8,1493.4 940.2,1502.3 940.7,1512.7 941.1,1504.9 941.5,1518.0 941.9,1488.2 942.4,1481.2 942.8,1512.2 943.2,1489.2 943.7,1491.8 944.1,1509.6 944.5,1489.9 945.0,1514.8 945.4,1520.0 945.8,1540.3 946.3,1544.1 946.7,1501.8 947.1,1521.3 947.6,1498.0 948.0,1504.7 948.4,1485.2 948.8,1489.1 949.3,1480.1 949.7,1525.5 950.1,1498.3 950.6,1499.9 951.0,1495.3 951.4,1556.2 951.9,1499.1 952.3,1490.9 952.7,1483.6 953.2,1496.8 953.6,1501.3 954.0,1507.1 954.5,1517.2 954.9,1480.3 955.3,1488.2 955.8,1491.7 956.2,1517.2 956.6,1541.4 957.0,1488.8 957.5,1511.2 957.9,1493.8 958.3,1505.9 958.8,1511.5 959.2,1545.0 959.6,1512.7 960.1,1529.7 960.5,1485.2 960.9,1493.5 961.4,1491.9 961.8,1488.6 962.2,1480.6 962.7,1538.3 963.1,1490.9 963.5,1480.0 963.9,1487.7 964.4,1520.5 964.8,1493.2 965.2,1499.1 965.7,1511.9 966.1,1489.3 966.5,1492.9 967.0,1498.9 967.4,1482.3 967.8,1500.2 968.3,1492.3 968.7,1490.0 969.1,1504.3 969.6,1503.2 970.0,1492.7 970.4,1495.8 970.8,1500.6 971.3,1496.6 971.7,1492.8 972.1,1501.3 972.6,1492.6 973.0,1493.0 973.4,1495.8 973.9,1520.3 974.3,1491.6 974.7,1495.9 975.2,1519.7 975.6,1485.2 976.0,1505.8 976.5,1515.5 976.9,1486.6 977.3,1487.7 977.7,1484.2 978.2,1503.2 978.6,1488.3 979.0,1497.9 979.5,1496.6 979.9,1494.2 980.3,1491.4 980.8,1531.2 981.2,1487.2 981.6,1485.2 982.1,1491.5 982.5,1500.9 982.9,1490.5 983.4,1490.6 983.8,1496.4 984.2,1516.8 984.6,1500.2 985.1,1481.8 985.5,1485.8 985.9,1527.3 986.4,1483.6 986.8,1535.0 987.2,1489.4 987.7,1581.1 988.1,1490.7 988.5,1503.3 989.0,1534.8 989.4,1487.8 989.8,1483.0 990.3,1525.3 990.7,1507.1 991.1,1508.2 991.5,1483.5 992.0,1514.3 992.4,1493.4 992.8,1524.5 993.3,1488.4 993.7,1534.2 994.1,1494.1 994.6,1478.2 995.0,1495.7 995.4,1501.5 995.9,1487.0 996.3,1506.3 996.7,1501.0 997.2,1488.3 997.6,1494.1 998.0,1543.6 998.4,1498.1 998.9,1488.5 999.3,1507.2 999.7,1517.8 1000.2,1505.2 1000.6,1502.5 1001.0,1494.3 1001.5,1528.6 1001.9,1520.5 1002.3,1486.6 1002.8,1484.3 1003.2,1539.1 1003.6,1489.2 1004.1,1482.4 1004.5,1508.7 1004.9,1501.3 1005.3,1512.6 1005.8,1494.2 1006.2,1495.9 1006.6,1500.1 1007.1,1505.1 1007.5,1506.6 1007.9,1506.7 1008.4,1509.5 1008.8,1503.8 1009.2,1492.4 1009.7,1490.8 1010.1,1513.4 1010.5,1497.3 1011.0,1500.8 1011.4,1485.0 1011.8,1506.3 1012.3,1519.0 1012.7,1496.7 1013.1,1514.9 1013.5,1508.9 1014.0,1498.2 1014.4,1484.1 1014.8,1523.0 1015.3,1509.1 1015.7,1488.7 1016.1,1472.1 1016.6,1502.9 1017.0,1545.1 1017.4,1499.1 1017.9,1494.9 1018.3,1512.9 1018.7,1490.9 1019.2,1503.7 1019.6,1514.5 1020.0,1531.1 1020.4,1504.3 1020.9,1533.3 1021.3,1489.2 1021.7,1480.8 1022.2,1491.4 1022.6,1497.7 1023.0,1543.5 1023.5,1480.1 1023.9,1501.0 1024.3,1523.7 1024.8,1507.9 1025.2,1480.5 1025.6,1510.2 1026.1,1503.2 1026.5,1522.4 1026.9,1509.0 1027.3,1570.7 1027.8,1485.2 1028.2,1505.1 1028.6,1508.0 1029.1,1520.6 1029.5,1515.3 1029.9,1485.4 1030.4,1485.5 1030.8,1505.1 1031.2,1514.3 1031.7,1531.6 1032.1,1467.6 1032.5,1479.3 1033.0,1490.3 1033.4,1498.0 1033.8,1500.4 1034.2,1484.4 1034.7,1494.5 1035.1,1495.3 1035.5,1541.6 1036.0,1478.6 1036.4,1509.1 1036.8,1519.0 1037.3,1536.7 1037.7,1511.8 1038.1,1495.3 1038.6,1506.6 1039.0,1503.2 1039.4,1500.7 1039.9,1499.3 1040.3,1511.7 1040.7,1479.9 1041.1,1544.3 1041.6,1527.0 1042.0,1486.9 1042.4,1515.3 1042.9,1482.7 1043.3,1486.7 1043.7,1519.7 1044.2,1493.5 1044.6,1515.0 1045.0,1485.2 1045.5,1494.3 1045.9,1486.6 1046.3,1498.6 1046.8,1507.6 1047.2,1535.9 1047.6,1500.0 1048.0,1507.2 1048.5,1495.2 1048.9,1501.7 1049.3,1507.6 1049.8,1492.9 1050.2,1484.3 1050.6,1545.2 1051.1,1490.9 1051.5,1484.3 1051.9,1492.6 1052.4,1564.7 1052.8,1503.9 1053.2,1517.8 1053.7,1501.1 1054.1,1511.2 1054.5,1481.8 1054.9,1494.2 1055.4,1494.6 1055.8,1494.8 1056.2,1494.8 1056.7,1496.7 1057.1,1507.0 1057.5,1488.1 1058.0,1483.4 1058.4,1500.9 1058.8,1520.9 1059.3,1478.5 1059.7,1536.5 1060.1,1545.7 1060.6,1490.0 1061.0,1539.5 1061.4,1544.9 1061.8,1490.3 1062.3,1505.8 1062.7,1510.3 1063.1,1499.3 1063.6,1509.0 1064.0,1496.1 1064.4,1504.3 1064.9,1515.4 1065.3,1521.2 1065.7,1498.7 1066.2,1492.3 1066.6,1479.5 1067.0,1553.3 1067.5,1499.1 1067.9,1515.7 1068.3,1505.0 1068.8,1513.4 1069.2,1502.6 1069.6,1491.4 1070.0,1515.7 1070.5,1505.2 1070.9,1503.0 1071.3,1516.1 1071.8,1506.1 1072.2,1477.1 1072.6,1508.1 1073.1,1505.2 1073.5,1492.0 1073.9,1522.2 1074.4,1505.9 1074.8,1516.9 1075.2,1535.9 1075.7,1486.0 1076.1,1505.1 1076.5,1500.9 1076.9,1537.0 1077.4,1491.4 1077.8,1525.7 1078.2,1505.2 1078.7,1539.9 1079.1,1500.2 1079.5,1487.3 1080.0,1501.0 1080.4,1488.9 1080.8,1544.7 1081.3,1490.8 1081.7,1506.0 1082.1,1485.0 1082.6,1513.0 1083.0,1503.8 1083.4,1485.8 1083.8,1519.9 1084.3,1490.9 1084.7,1521.9 1085.1,1479.8 1085.6,1499.2 1086.0,1502.3 1086.4,1515.1 1086.9,1501.2 1087.3,1507.1 1087.7,1484.7 1088.2,1497.7 1088.6,1501.2 1089.0,1544.9 1089.5,1497.0 1089.9,1529.9 1090.3,1505.4 1090.7,1494.6 1091.2,1518.1 1091.6,1484.5 1092.0,1510.1 1092.5,1479.8 1092.9,1489.3 1093.3,1483.2 1093.8,1508.0 1094.2,1489.2 1094.6,1526.2 1095.1,1482.5 1095.5,1492.9 1095.9,1507.3 1096.4,1510.3 1096.8,1515.0 1097.2,1548.5 1097.6,1515.0 1098.1,1507.6 1098.5,1490.5 1098.9,1553.3 1099.4,1495.0 1099.8,1493.0 1100.2,1486.1 1100.7,1502.7 1101.1,1495.5 1101.5,1523.8 1102.0,1486.5 1102.4,1513.6 1102.8,1514.6 1103.3,1511.4 1103.7,1507.3 1104.1,1525.8 1104.5,1480.6 1105.5,1055.3 1105.4,1505.4 1105.8,1529.6 1106.3,1507.3 1106.7,1515.8 1107.1,1506.5 1107.6,1514.6 1108.0,1497.3 1108.4,1519.0 1108.9,1486.6 1109.3,1496.4 1109.7,1482.6 1110.2,1498.4 1110.6,1542.6 1111.0,1477.7 1111.4,1510.8 1111.9,1521.1 1112.3,1486.9 1112.7,1487.2 1113.2,1486.1 1113.6,1485.6 1114.0,1507.2 1114.5,1497.2 1114.9,1513.2 1115.3,1514.9 1115.8,1497.6 1116.2,1490.0 1116.6,1546.0 1117.1,1502.4 1117.5,1510.3 1117.9,1488.2 1118.4,1493.3 1118.8,1491.7 1119.2,1484.6 1119.6,1519.8 1120.1,1543.5 1120.5,1497.5 1120.9,1505.9 1121.4,1500.8 1121.8,1498.1 1122.2,1491.1 1122.7,1534.2 1123.1,1497.5 1123.5,1486.1 1124.0,1488.6 1124.4,1506.1 1124.8,1501.4 1125.3,1484.0 1125.7,1486.2 1126.1,1497.8 1126.5,1484.5 1127.0,1495.7 1127.4,1497.6 1127.8,1515.7 1128.3,1532.6 1128.7,1543.8 1129.1,1497.3 1129.6,1502.4 1130.0,1488.0 1130.4,1479.0 1130.9,1492.6 1131.3,1494.1 1131.7,1489.9 1132.2,1486.3 1132.6,1490.7 1133.0,1523.8 1133.4,1503.4 1133.9,1507.5 1134.3,1496.0 1134.7,1540.9 1135.2,1502.7 1135.6,1517.5 1136.0,1528.2 1136.5,1478.0 1136.9,1497.1 1137.3,1495.9 1137.8,1495.4 1138.2,1511.4 1138.6,1485.9 1139.1,1499.4 1139.5,1496.3 1139.9,1488.1 1140.3,1486.4 1140.8,1488.5 1141.2,1484.2 1141.6,1480.4 1142.1,1518.2 1142.5,1532.8 1142.9,1492.9 1143.4,1546.2 1143.8,1492.8 1144.2,1507.2 1144.7,1514.2 1145.1,1541.5 1145.5,1520.7 1146.0,1493.1 1146.4,1500.3 1146.8,1489.3 1147.2,1496.1 1147.7,1487.7 1148.1,1499.9 1148.5,1491.3 1149.0,1481.7 1149.4,1486.0 1149.8,1513.3 1150.3,1488.9 1150.7,1523.3 1151.1,1502.8 1151.6,1489.2 1152.0,1527.0 1152.4,1507.3 1152.9,1490.5 1153.3,1483.9 1153.7,1519.2 1154.1,1495.0 1154.6,1495.2 1155.0,1499.1 1155.4,1543.8 1155.9,1543.2 1156.3,1513.9 1156.7,1540.1 1157.2,1512.7 1157.6,1504.0 1158.0,1515.5 1158.5,1590.7 1158.9,1493.1 1159.3,1483.7 1159.8,1485.1 1160.2,1499.9 1160.6,1492.7 1161.0,1482.4 1161.5,1485.2 1161.9,1497.1 1162.3,1536.3 1162.8,1481.7 1163.2,1483.4 1163.6,1491.0 1164.1,1494.0 1164.5,1481.0 1164.9,1509.1 1165.4,1485.8 1165.8,1482.2 1166.2,1508.9 1166.7,1538.2 1167.1,1491.5 1167.5,1488.3 1167.9,1490.2 1168.4,1491.9 1168.8,1512.5 1169.2,1486.5 1169.7,1488.9 1170.1,1483.4 1170.5,1542.3 1171.0,1480.3 1171.4,1508.3 1171.8,1488.1 1172.3,1516.2 1172.7,1508.5 1173.1,1531.5 1173.6,1497.0 1174.0,1492.0 1174.4,1528.3 1174.9,1492.1 1175.3,1515.4 1175.7,1487.0 1176.1,1477.9 1176.6,1520.5 1177.0,1514.9 1177.4,1513.5 1177.9,1520.7 1178.3,1480.1 1178.7,1478.2 1179.2,1506.9 1179.6,1515.3 1180.0,1501.2 1180.5,1505.6 1180.9,1503.9 1181.3,1502.0 1181.8,1503.9 1182.2,1496.1 1182.6,1497.0 1183.0,1495.9 1183.5,1506.3 1183.9,1482.9 1184.3,1481.4 1184.8,1482.3 1185.2,1544.4 1185.6,1505.3 1186.1,1499.3 1186.5,1531.0 1186.9,1482.9 1187.4,1506.0 1187.8,1490.0 1188.2,1503.6 1188.7,1503.7 1189.1,1496.2 1189.5,1527.7 1189.9,1498.1 1190.4,1500.3 1190.8,1504.2 1191.2,1476.4 1191.7,1488.8 1192.1,1496.4 1192.5,1530.5 1193.0,1493.7 1193.4,1486.6 1193.8,1504.9 1194.3,1523.8 1194.7,1505.6 1195.1,1498.6 1195.6,1480.5 1196.0,1499.5 1196.4,1517.2 1196.8,1505.0 1197.3,1506.5 1197.7,1499.9 1198.1,1485.9 1198.6,1488.8 1199.0,1486.9 1199.4,1503.9 1199.9,1497.7 1200.3,1493.5 1200.7,1497.8 1201.2,1499.6 1201.6,1486.5 1202.0,1497.0 1202.5,1494.0 1202.9,1498.7 1203.3,1526.8 1203.7,1492.5 1204.2,1512.3 1204.6,1500.8 1205.0,1520.8 1205.5,1500.0 1205.9,1490.2 1206.3,1510.0 1206.8,1492.9 1207.2,1522.7 1207.6,1533.5 1208.1,1499.3 1208.5,1494.0 1208.9,1514.7 1209.4,1491.2 1209.8,1494.0 1210.2,1483.5 1210.6,1505.5 1211.1,1495.8 1211.5,1502.6 1211.9,1532.6 1212.4,1477.4 1212.8,1498.4 1213.2,1511.7 1213.7,1506.0 1214.1,1488.1 1214.5,1514.3 1215.0,1489.7 1215.4,1499.9 1215.8,1493.6 1216.3,1505.4 1216.7,1501.9 1217.1,1513.7 1217.5,1509.6 1218.0,1509.7 1218.4,1491.8 1218.8,1490.4 1219.3,1543.5 1219.7,1524.3 1220.1,1504.8 1220.6,1496.3 1221.0,1509.7 1221.4,1500.4 1221.9,1478.3 1222.3,1488.7 1222.7,1492.5 1223.2,1529.1 1223.6,1510.2 1224.0,1493.6 1224.5,1527.2 1224.9,1512.9 1225.3,1504.0 1225.7,1508.0 1226.2,1513.5 1226.6,1553.3 1227.0,1485.9 1227.5,1539.8 1227.9,1512.0 1228.3,1487.8 1228.8,1491.0 1229.2,1501.5 1229.6,1501.9 1230.1,1534.1 1230.5,1511.2 1230.9,1493.3 1231.4,1497.9 1231.8,1520.9 1232.2,1498.8 1232.6,1517.5 1233.1,1537.7 1233.5,1515.9 1233.9,1483.5 1234.4,1499.9 1234.8,1517.3 1235.2,1508.0 1235.7,1488.9 1236.1,1512.1 1236.5,1494.7 1237.0,1485.5 1237.4,1495.1 1237.8,1509.0 1238.3,1492.0 1238.7,1510.9 1239.1,1486.1 1239.5,1504.3 1240.0,1508.9 1240.4,1556.2 1240.8,1489.4 1241.3,1510.1 1241.7,1482.6 1242.1,1519.8 1242.6,1525.8 1243.0,1499.9 1243.4,1538.7 1243.9,1492.5 1244.3,1489.3 1244.7,1485.3 1245.2,1489.7 1245.6,1491.2 1246.0,1510.5 1246.4,1484.3 1246.9,1482.2 1247.3,1542.4 1247.7,1494.7 1248.2,1494.8 1248.6,1507.6 1249.0,1543.4 1249.5,1489.4 1249.9,1516.6 1250.3,1492.9 1250.8,1523.8 1251.2,1521.6 1251.6,1510.9 1252.1,1502.5 1252.5,1508.6 1252.9,1531.1 1253.3,1548.8 1253.8,1488.5 1254.2,1504.3 1254.6,1479.5 1255.1,1545.5 1255.5,1487.9 1255.9,1527.6 1256.4,1490.6 1256.8,1527.4 1257.2,1487.3 1257.7,1496.7 1258.1,1550.9 1258.5,1515.0 1259.0,1545.1 1259.4,1511.6 1259.8,1504.6 1260.2,1486.6 1260.7,1485.6 1261.1,1517.2 1261.5,1507.5 1262.0,1491.2 1262.4,1506.8 1262.8,1510.9 1263.3,1504.9 1263.7,1503.2 1264.1,1502.7 1264.6,1518.7 1265.0,1525.2 1265.4,1500.0 1265.9,1504.8 1266.3,1486.4 1266.7,1485.9 1267.1,1491.7 1267.6,1486.1 1268.0,1489.5 1268.4,1484.0 1268.9,1522.2 1269.3,1486.3 1269.7,1492.8 1270.2,1550.8 1270.6,1505.3 1271.0,1498.1 1271.5,1483.6 1271.9,1522.6 1272.3,1493.0 1272.8,1492.5 1273.2,1515.0 1273.6,1550.2 1274.0,1485.7 1274.5,1487.1 1274.9,1490.9 1275.3,1492.3 1275.8,1529.0 1276.2,1513.4 1276.6,1479.8 1277.1,1490.4 1277.5,1095.2 1277.9,1488.9 1278.4,1486.4 1278.8,1487.4 1279.2,1543.5 1279.7,1494.8 1280.1,1517.4 1280.5,1508.3 1281.0,1515.6 1281.4,1530.3 1281.8,1503.5 1282.2,1489.1 1282.7,1500.5 1283.1,1527.6 1283.5,1492.1 1284.0,1489.3 1284.4,1503.1 1284.8,1484.3 1285.3,1497.6 1285.7,1501.4 1286.1,1510.2 1286.6,1498.8 1287.0,1476.8 1287.4,1502.2 1287.9,1509.5 1288.3,1482.0 1288.7,1494.4 1289.1,1485.7 1289.6,1484.7 1290.0,1487.6 1290.4,1533.0 1290.9,1494.3 1291.3,1511.6 1291.7,1520.9 1292.2,1521.0 1292.6,1500.9 1293.0,1497.0 1293.5,1487.5 1293.9,1480.3 1294.3,1494.2 1294.8,1543.5 1295.2,1490.3 1295.6,1483.2 1296.0,1492.4 1296.5,1524.7 1296.9,1496.2 1297.3,1537.2 1297.8,1490.1 1298.2,1486.2 1298.6,1506.1 1299.1,1494.4 1299.5,1490.8 1299.9,1543.8 1300.4,1486.6 1300.8,1504.3 1301.2,1521.0 1301.7,1488.4 1302.1,1488.5 1302.5,1496.9 1302.9,1510.6 1303.4,1542.1 1303.8,1497.1 1304.2,1500.3 1304.7,1514.4 1305.1,1487.0 1305.5,1517.2 1306.0,1544.6 1306.4,1483.5 1306.8,1492.0 1307.3,1514.0 1307.7,1490.9 1308.1,1494.7 1308.6,1516.1 1309.0,1481.3 1309.4,1485.0 1309.8,1493.2 1310.3,1507.7 1310.7,1508.8 1311.1,1535.1 1311.6,1506.9 1312.0,1521.4 1312.4,1506.2 1312.9,1494.1 1313.3,1490.5 1313.7,1505.0 1314.2,1514.7 1314.6,1500.0 1315.0,1501.9 1315.5,1504.9 1315.9,1504.5 1316.3,1533.9 1316.7,1491.9 1317.2,1499.8 1317.6,1486.9 1318.0,1491.9 1318.5,1502.8 1318.9,1505.3 1319.3,1497.9 1319.8,1519.2 1320.2,1489.7 1320.6,1506.3 1321.2,1483.0 1321.6,1524.8 1322.1,1532.0 1322.5,1530.6 1322.9,1529.0 1323.4,1535.6 1323.8,1484.6 1324.2,1507.0 1324.7,1490.2 1325.1,1483.0 1325.5,1504.0 1325.9,1483.6 1326.4,1524.3 1326.8,1497.4 1327.2,1506.8 1327.7,1487.0 1328.1,1501.2 1328.5,1497.4 1329.0,1526.5 1329.4,1524.7 1329.8,1500.5 1330.3,1478.7 1330.7,1501.1 1331.1,1485.2 1331.6,1520.3 1332.0,1536.2 1332.4,1488.7 1332.8,1525.2 1333.3,1509.9 1333.7,1488.9 1334.1,1493.2 1334.6,1488.6 1335.0,1489.1 1335.4,1489.0 1335.9,1481.5 1336.3,1545.0 1336.7,1496.0 1337.2,1521.6 1337.6,1559.1 1338.0,1482.6 1338.5,1489.2 1338.9,1489.2 1339.3,1539.9 1339.7,1490.8 1340.2,1483.6 1340.6,1490.3 1341.0,1547.4 1341.5,1516.8 1341.9,1484.8 1342.3,1529.7 1342.8,1493.5 1343.2,1510.1 1343.6,1502.9 1344.1,1511.9 1344.5,1497.8 1344.9,1497.6 1345.4,1533.5 1345.8,1513.9 1346.2,1487.5 1346.6,1489.3 1347.1,1479.1 1347.5,1487.9 1347.9,1509.7 1348.4,1524.0 1348.8,1510.2 1349.2,1511.1 1349.7,1501.8 1350.1,1508.9 1350.5,1484.8 1351.0,1520.6 1351.4,1510.1 1351.8,1484.5 1352.3,1489.4 1352.7,1508.8 1353.1,1513.8 1353.5,1514.4 1354.0,1480.4 1354.4,1493.7 1354.8,1479.0 1355.3,1487.3 1355.7,1493.9 1356.1,1502.4 1356.6,1492.2 1357.0,1522.1 1357.4,1518.5 1357.9,1534.1 1358.3,1527.1 1358.7,1480.2 1359.2,1543.5 1359.6,1500.5 1360.0,1497.3 1360.4,1490.6 1360.9,1489.7 1361.3,1537.2 1361.7,1490.8 1362.2,1482.8 1362.6,1546.4 1363.0,1491.4 1363.5,1480.5 1363.9,1539.5 1364.3,1500.6 1364.8,1488.1 1365.2,1492.0 1365.6,1487.8 1366.1,1502.2 1366.5,1499.1 1366.9,1497.2 1367.3,1497.2 1367.8,1499.6 1368.2,1498.0 1368.6,1514.9 1369.1,1544.0 1369.5,1487.7 1369.9,1490.1 1370.4,1558.6 1370.8,1523.1 1371.2,1483.6 1371.7,1498.9 1372.1,1518.4 1372.5,1482.8 1373.0,1516.0 1373.4,1518.6 1373.8,1502.1 1374.2,1513.9 1374.7,1506.1 1375.1,1501.4 1375.5,1476.7 1376.0,1491.5 1376.4,1500.5 1376.8,1482.4 1377.3,1477.5 1377.7,1484.9 1378.1,1485.3 1378.6,1485.7 1379.0,1492.9 1379.4,1489.5 1379.9,1481.5 1380.3,1487.1 1380.7,1497.2 1381.2,1536.7 1381.6,1507.2 1382.0,1490.0 1382.4,1484.2 1382.9,1489.9 1383.3,1544.4 1383.7,1495.3 1384.2,1543.3 1384.6,1541.5 1385.0,1523.6 1385.5,1501.5 1385.9,1481.2 1386.3,1487.2 1386.8,1526.7 1387.2,1482.6 1387.6,1501.4 1388.1,1496.2 1388.5,1496.9 1388.9,1498.3 1389.3,1500.5 1389.8,1482.0 1390.2,1515.7 1390.6,1488.9 1391.1,1508.2 1391.5,1482.4 1391.9,1498.8 1392.4,1485.7 1392.8,1493.4 1393.2,1498.7 1393.7,1493.9 1394.1,1484.1 1394.5,1508.5 1395.0,1507.7 1395.4,1499.5 1395.8,1486.1 1396.2,1496.5 1396.7,1494.1 1397.1,1504.4 1397.5,1528.6 1398.0,1501.8 1398.4,1479.0 1398.8,1543.4 1399.3,1545.7 1399.7,1498.4 1400.1,1499.8 1400.6,1497.9 1401.0,1487.1 1401.4,1505.3 1401.9,1537.7 1402.3,1488.9 1402.7,1507.1 1403.1,1548.8 1403.6,1503.1 1404.0,1489.9 1404.4,1499.3 1404.9,1506.0 1405.3,1511.4 1405.7,1496.0 1406.2,1530.5 1406.6,1509.4 1407.0,1525.9 1407.5,964.4 1407.9,1489.4 1408.3,1473.5 1408.8,1510.1 1409.2,1484.3 1409.6,1478.0 1410.0,1501.4 1410.5,1491.9 1410.9,1511.7 1411.3,1494.2 1411.8,1549.1 1412.2,1495.4 1412.6,1513.1 1413.1,1524.5 1413.5,1482.1 1413.9,1493.9 1414.4,1493.6 1414.8,1503.3 1415.2,1480.3 1415.7,1518.6 1416.1,1538.7 1416.5,1491.1 1416.9,1508.8 1417.4,1518.0 1417.8,1506.5 1418.2,1496.1 1418.7,1486.2 1419.1,1515.0 1419.5,1563.4 1420.0,1507.5 1420.4,1510.4 1420.8,1493.2 1421.3,1509.0 1421.7,1502.9 1422.1,1509.3 1422.6,1533.7 1423.0,1488.9 1423.4,1495.7 1423.8,1496.4 1424.3,1482.3 1424.7,1500.6 1425.1,1491.5 1425.6,1493.6 1426.0,1498.3 1426.4,1494.3 1426.9,1480.2 1427.3,1490.9 1427.7,1505.7 1428.2,1521.5 1428.6,1496.6 1429.0,1500.9 1429.5,1501.4 1429.9,1484.5 1430.3,1500.1 1430.8,1478.8 1431.2,1520.0 1431.6,1496.4 1432.0,1491.0 1432.5,1519.0 1432.9,1485.7 1433.3,1492.7 1433.8,1501.8 1434.2,1490.9 1434.6,1528.4 1435.1,1499.8 1435.5,1490.4 1435.9,1546.1 1436.4,1531.9 1436.8,1499.4 1437.2,1487.6 1437.7,1505.9 1438.1,1489.8 1438.5,1499.3 1438.9,1483.9 1439.4,1495.0 1439.8,1533.8 1440.2,1493.1 1440.7,1510.9 1441.1,1498.6 1441.5,1473.6 1442.0,1484.6 1442.4,1497.1 1442.8,1489.3 1443.3,1606.0 1443.7,1500.5 1444.1,1515.4 1444.6,1519.0 1445.0,1495.8 1445.4,1534.2 1445.8,1489.6 1446.3,1495.6 1446.7,1498.5 1447.1,1524.8 1447.6,1505.8 1448.0,1518.5 1448.4,1510.5 1448.9,1498.9 1449.3,1511.6 1449.7,1501.3 1450.2,1544.2 1450.6,1500.3 1451.0,1490.6 1451.5,1512.1 1451.9,1521.3 1452.3,1512.4 1452.7,1492.7 1453.2,1522.7 1453.6,1519.8 1454.0,1498.7 1454.5,1523.3 1454.9,1497.1 1455.3,1514.8 1455.8,1510.1 1456.2,1496.6 1456.6,1495.8 1457.1,1543.9 1457.5,1490.5 1457.9,1496.1 1458.4,1484.9 1458.8,1493.2 1459.2,1514.4 1459.6,1485.0 1460.1,1497.2 1460.5,1494.0 1460.9,1512.7 1461.4,1493.1 1461.8,1487.4 1462.2,1494.9 1462.7,1493.7 1463.1,1488.9 1463.5,1497.3 1464.0,1501.8 1464.4,1578.7 1464.8,1496.1 1465.3,1544.7 1465.7,1533.9 1466.1,1543.3 1466.5,1493.9 1467.0,1500.5 1467.4,1498.2 1467.8,1511.9 1468.3,1494.9 1468.7,1489.0 1469.1,1493.3 1469.6,1513.1 1470.0,1513.7 1470.4,1493.1 1470.9,1544.3 1471.3,1500.7 1471.7,1492.5 1472.2,1543.9 1472.6,1504.3 1473.0,1508.3 1473.4,1539.7 1473.9,1498.0 1474.3,1503.0 1474.7,1545.5 1475.2,1504.6 1475.6,1511.8 1476.0,1510.5 1476.5,1480.3 1476.9,1480.3 1477.3,1485.1 1477.8,1536.4 1478.2,1493.8 1478.6,1504.1 1479.1,1537.2 1479.5,1496.6 1479.9,1495.6 1480.3,1497.9 1480.8,1521.7 1481.2,1504.9 1481.6,1524.0 1482.1,1495.0 1482.5,1524.4 1482.9,1481.9 1483.4,1485.9 1483.8,1496.9 1484.2,1509.8 1484.7,1493.1 1485.1,1513.0 1485.5,1544.3 1486.0,1486.4 1486.4,1517.0 1486.8,1492.4 1487.3,1490.0 1487.7,1492.0 1488.1,1506.6 1488.5,1536.5 1489.0,1513.4 1489.4,1509.9 1489.8,1484.1 1490.3,1484.8 1490.7,1500.9 1491.1,1486.2 1491.6,1490.9 1492.0,1492.6 1492.4,1482.7 1492.9,1512.1 1493.3,1492.2 1493.7,1477.2 1494.2,1493.0 1494.6,1491.8 1495.0,1478.3 1495.4,1568.8 1495.9,1489.5 1496.3,1489.8 1496.7,1490.9 1497.2,1493.4 1497.6,1524.9 1498.0,1479.7 1498.5,1499.2 1498.9,1543.7 1499.3,1535.8 1499.8,1543.2 1500.2,1489.1 1500.6,1485.8 1501.1,1482.0 1501.5,1488.0 1501.9,1492.1 1502.3,1509.5 1502.8,1479.7 1503.2,1502.8 1503.6,1480.4 1504.1,1496.5 1504.5,1494.6 1504.9,1490.6 1505.4,1558.6 1505.8,1499.2 1506.2,1504.0 1506.7,1501.8 1507.1,1483.1 1507.5,1511.9 1508.0,1508.8 1508.4,1508.1 1508.8,1495.5 1509.2,1488.3 1509.7,1538.3 1510.1,1517.3 1510.5,1500.2 1511.0,1515.1 1511.4,1511.7 1511.8,1544.8 1512.3,1509.9 1512.7,1489.0 1513.1,1507.7 1513.6,1529.7 1514.0,1496.2 1514.4,1501.9 1514.9,1488.3 1515.3,1492.7 1515.7,1506.5 1516.1,1530.0 1516.6,1484.6 1517.0,1523.2 1517.4,1492.3 1517.9,1516.9 1518.3,1513.8 1518.7,1509.2 1519.2,1515.5 1519.6,1495.6 1520.0,1507.6 1520.5,1490.2 1520.9,1492.2 1521.3,1497.5 1521.8,1486.6 1522.2,1506.4 1522.6,1481.3 1523.0,1511.4 1523.5,1512.2 1523.9,1488.5 1524.3,1531.0 1524.8,1503.6 1525.2,1517.9 1525.6,1545.5 1526.1,1507.0 1526.5,1486.8 1526.9,1486.1 1527.4,1498.0 1527.8,1503.5 1528.2,1535.2 1528.7,1484.0 1529.1,1482.0 1529.5,1480.4 1529.9,1534.7 1530.4,1486.7 1530.8,1491.1 1531.2,1506.1 1531.7,1533.6 1532.1,1491.3 1532.5,1540.1 1533.0,1509.3 1533.4,1525.2 1533.8,1485.3 1534.3,1524.0 1534.7,1489.7 1535.1,1481.0 1535.6,1486.7 1536.0,1501.5 1536.4,1495.4 1536.8,1502.8 1537.3,1494.1 1537.7,1499.0 1538.1,1521.9 1538.6,1528.2 1539.0,1508.8 1539.4,1497.6 1539.9,1480.2 1540.3,1489.7 1540.7,1533.0 1541.2,1493.2 1541.6,1484.9 1542.0,1501.4 1542.5,1501.3 1542.9,1483.9 1543.3,1542.0 1543.8,1482.4 1544.2,1533.6 1544.6,1486.0 1545.0,1513.8 1545.5,1537.9 1545.9,1483.3 1546.3,1510.4 1546.8,1538.6 1547.2,1494.2 1547.6,1492.6 1548.1,1530.1 1548.5,1484.2 1548.9,1500.0 1549.4,1519.3 1549.8,1528.6 1550.2,1504.2 1550.7,1524.5 1551.1,1504.9 1551.5,1494.3 1551.9,1486.5 1552.4,1507.9 1552.8,1492.4 1553.2,1513.5 1553.7,1498.6 1554.1,1571.9 1554.5,1503.4 1555.0,1493.9 1555.4,1494.1 1555.8,1498.2 1556.3,1486.9 1556.7,1515.7 1557.1,1501.2 1557.6,1507.5 1558.0,1500.1 1558.4,1522.9 1558.8,1491.7 1559.3,1496.4 1559.7,1507.8 1560.1,1515.9 1560.6,1522.9 1561.0,1509.2 1561.4,1551.4 1561.9,1515.0 1562.3,1486.3 1562.7,1500.7 1563.2,1506.2 1563.6,1489.8 1564.0,1518.7 1564.5,1494.5 1564.9,1492.6 1565.3,1493.0 1565.7,1492.4 1566.2,1531.8 1566.6,1491.4 1567.0,1505.9 1567.5,1499.2 1567.9,1480.5 1568.3,1501.9 1568.8,1507.8 1569.2,1485.8 1569.6,1501.1 1570.1,1484.3 1570.5,1483.6 1570.9,1515.4 1571.4,1512.3 1571.8,1503.9 1572.2,1494.2 1572.6,1481.9 1573.1,1495.3 1573.5,1491.6 1573.9,1547.7 1574.4,1493.4 1574.8,1489.5 1575.2,1529.2 1575.7,1493.2 1576.1,1502.3 1576.5,1527.0 1577.0,1508.6 1577.4,1483.4 1577.8,1518.9 1578.3,1502.0 1578.7,1487.4 1579.1,1510.9 1579.5,1507.0 1579.5,1025.2 1580.4,1539.7 1580.8,1538.3 1581.3,1501.7 1581.7,1514.4 1582.1,1488.4 1582.6,1492.4 1583.0,1516.6 1583.4,1479.6 1583.9,1489.3 1584.3,1484.5 1584.7,1500.2 1585.2,1514.6 1585.6,1510.9 1586.0,1490.7 1586.4,1482.4 1586.9,1545.0 1587.3,1490.6 1587.7,1493.6 1588.2,1490.6 1588.6,1492.6 1589.0,1485.5 1589.5,1504.7 1589.9,1489.7 1590.3,1485.9 1590.8,1507.8 1591.2,1494.0 1591.6,1557.4 1592.1,1499.4 1592.5,1521.6 1592.9,1509.5 1593.4,1507.2 1593.8,1501.4 1594.2,1487.9 1594.6,1491.9 1595.1,1519.9 1595.5,1506.7 1595.9,1527.8 1596.4,1481.6 1596.8,1493.4 1597.2,1510.6 1597.7,1516.8 1598.1,1478.3 1598.5,1497.0 1599.0,1515.5 1599.4,1481.3 1599.8,1499.1 1600.3,1498.8 1600.7,1501.9 1601.1,1489.4 1601.5,1526.3 1602.0,1486.8 1602.4,1502.3 1602.8,1502.9 1603.3,1493.3 1603.7,1496.5 1604.1,1496.2 1604.6,1483.0 1605.0,1544.6 1605.4,1505.3 1605.9,1505.0 1606.3,1505.3 1606.7,1535.7 1607.2,1493.1 1607.6,1606.0 1608.0,1481.1 1608.4,1501.3 1608.9,1527.3 1609.3,1498.1 1609.7,1513.9 1610.2,1497.5 1610.6,1492.3 1611.0,1490.2 1611.5,1510.2 1611.9,1495.2 1612.3,1506.6 1612.8,1496.3 1613.2,1526.5 1613.6,1482.0 1614.1,1492.4 1614.5,1506.5 1614.9,1483.9 1615.3,1511.1 1615.8,1506.6 1616.2,1525.0 1616.6,1485.2 1617.1,1519.6 1617.5,1486.7 1617.9,1520.2 1618.4,1489.0 1618.8,1494.2 1619.2,1496.8 1619.7,1517.6 1620.1,1518.7 1620.5,1473.3 1621.0,1510.8 1621.4,1491.8 1621.8,1525.4 1622.2,1482.2 1622.7,1488.8 1623.1,1511.9 1623.5,1490.9 1624.0,1486.6 1624.4,1518.5 1624.8,1510.5 1625.3,1503.9 1625.7,1483.9 1626.1,1545.2 1626.6,1481.8 1627.0,1530.1 1627.4,1519.6 1627.9,1499.4 1628.3,1490.8 1628.7,1520.8 1629.1,1494.4 1629.6,1505.2 1630.0,1514.3 1630.4,1498.8 1630.9,1500.8 1631.3,1512.1 1631.7,1516.9 1632.2,1493.0 1632.6,1501.1 1633.0,1491.3 1633.5,1536.0 1633.9,1509.7 1634.3,1491.8 1634.8,1483.0 1635.2,1484.3 1635.6,1501.3 1636.0,1503.3 1636.5,1485.1 1636.9,1505.5 1637.3,1548.4 1637.8,1489.6 1638.2,1505.2 1638.6,1498.0 1639.1,1497.1 1639.5,1487.5 1639.9,1488.4 1640.4,1524.0 1640.8,1506.4 1641.2,1555.0 1641.7,1483.3 1642.1,1491.6 1642.5,1488.4 1642.9,1495.6 1643.4,1484.9 1643.8,1490.6 1644.2,1500.0 1644.7,1499.0 1645.1,1500.9 1645.5,1501.1 1646.0,1537.4 1646.4,1503.6 1646.8,1493.9 1647.3,1505.5 1647.7,1480.1 1648.1,1477.9 1648.6,1524.9 1649.0,1475.6 1649.4,1492.3 1649.9,1504.9 1650.3,1503.3 1650.7,1538.4 1651.1,1526.0 1651.6,1499.7 1652.0,1479.2 1652.4,1496.9 1652.9,1520.2 1653.3,1547.4 1653.7,1504.9 1654.2,1491.5 1654.6,1507.4 1655.0,1502.5 1655.5,1506.2 1655.9,1487.5 1656.3,1498.7 1656.8,1502.3 1657.2,1501.4 1657.6,1490.8 1658.0,1500.9 1658.5,1529.1 1658.9,1524.4 1659.3,1505.8 1659.8,1475.6 1660.2,1512.8 1660.6,1495.8 1661.1,1496.9 1661.5,1490.6 1661.9,1515.0 1662.4,1563.4 1662.8,1494.8 1663.2,1489.6 1663.7,1489.1 1664.1,1513.1 1664.5,1522.3 1664.9,1481.3 1665.4,1480.6 1665.8,1494.6 1666.2,1501.2 1666.7,1501.6 1667.1,1508.6 1667.5,1501.7 1668.0,1481.5 1668.4,1500.7 1668.8,1487.9 1669.3,1524.1 1669.7,1531.8 1670.1,1497.9 1670.6,1502.1 1671.0,1499.7 1671.4,1514.5 1671.8,1521.5 1672.3,1487.4 1672.7,1472.5 1673.1,1508.2 1673.6,1526.6 1674.0,1495.6 1674.4,1491.5 1674.9,1510.1 1675.3,1482.5 1675.7,1491.0 1676.2,1493.0 1676.6,1508.9 1677.0,1493.3 1677.5,1499.1 1677.9,1490.4 1678.3,1485.3 1678.7,1544.5 1679.2,1489.9 1679.6,1491.1 1680.0,1483.0 1680.5,1495.3 1680.9,1477.0 1681.3,1546.2 1681.8,1496.1 1682.2,1503.1 1682.6,1523.3 1683.1,1490.7 1683.5,1484.9 1683.9,1540.3 1684.4,1507.0 1684.8,1500.9 1685.2,1490.7 1685.6,1488.9 1686.1,1510.3 1686.5,1506.0 1686.9,1520.8 1687.4,1514.3 1687.8,1480.2 1688.2,1515.4 1688.7,1491.9 1689.1,1494.3 1689.5,1484.0 1690.0,1492.3 1690.4,1515.2 1690.8,1491.4 1691.3,1495.7 1691.7,1526.4 1692.1,1547.1 1692.5,1486.6 1693.0,1520.0 1693.4,1495.2 1693.8,1529.8 1694.3,1520.9 1694.7,1494.7 1695.1,1481.8 1695.6,1521.8 1696.0,1484.5 1696.4,1502.4 1696.9,1502.3 1697.3,1509.3 1697.7,1492.2 1698.2,1484.3 1698.6,1537.8 1699.0,1505.6 1699.5,1606.0 1699.9,1509.1 1700.3,1489.1 1700.7,1498.5 1701.2,1515.6 1701.6,1503.8 1702.0,1487.5 1702.5,1523.9 1702.9,1483.2 1703.3,1515.0 1703.8,1486.8 1704.2,1501.5 1704.6,1486.7 1705.1,1512.2 1705.5,1508.9 1705.9,1485.2 1706.4,1486.2 1706.8,1496.3 1707.2,1521.2 1707.6,1507.1 1708.1,1486.3 1708.5,1524.5 1708.9,1486.8 1709.4,1496.5 1709.8,1483.3 1710.2,1499.1 1710.7,1515.5 1711.1,1524.7 1711.5,1489.7 1712.0,1507.4 1712.4,1495.8 1712.8,1553.8 1713.3,1510.5 1713.7,1488.2 1714.1,1494.8 1714.5,1500.5 1715.0,1482.5 1715.4,1522.2 1715.8,1501.1 1716.3,1513.2 1716.7,1510.5 1717.1,1528.6 1717.6,1508.5 1718.0,1521.6 1718.4,1523.8 1718.9,1494.2 1719.3,1512.4 1719.7,1519.0 1720.2,1486.1 1720.6,1532.9 1721.0,1509.4 1721.4,1480.9 1721.9,1487.5 1722.3,1492.9 1722.7,1495.2 1723.2,1492.8 1723.6,1537.0 1724.0,1502.0 1724.5,1490.6 1724.9,1490.1 1725.3,1497.6 1725.8,1492.2 1726.2,1489.8 1726.6,1543.2 1727.1,1499.2 1727.5,1483.9 1727.9,1498.7 1728.3,1523.2 1728.8,1510.4 1729.2,1507.5 1729.6,1516.7 1730.1,1490.1 1730.5,1512.8 1730.9,1522.9 1731.4,1504.0 1731.8,1500.7 1732.2,1488.4 1732.7,1503.3 1733.1,1483.2 1733.5,1501.3 1734.0,1501.2 1734.4,1525.4 1734.8,1547.4 1735.2,1485.8 1735.7,1505.2 1736.1,1492.5 1736.5,1497.2 1737.0,1486.8 1737.4,1555.0 1737.8,1470.2 1738.3,1506.7 1738.7,1510.5 1739.1,1516.4 1739.6,1510.4 1740.0,1487.5 1740.4,1495.1 1740.9,1528.8 1741.3,1531.8 1741.7,1485.6 1742.1,1500.7 1742.6,1480.5 1743.0,1526.6 1743.4,1491.6 1743.9,1494.4 1744.3,1504.0 1744.7,1487.6 1745.2,1488.5 1745.6,1494.7 1746.0,1521.7 1746.5,1486.3 1746.9,1492.7 1747.3,1503.2 1747.8,1511.6 1748.2,1516.4 1748.6,1521.3 1749.0,1494.9 1749.5,1494.6 1749.9,1487.2 1750.3,1522.6 1750.8,1488.9 1751.2,1493.1 1751.6,1496.5 1752.1,1493.5 1752.5,1059.3 1752.9,1544.7 1753.4,1507.4 1753.8,1484.0 1754.2,1495.9 1754.7,1492.4 1755.1,1491.6 1755.5,1504.2 1756.0,1518.7 1756.4,1498.7 1756.8,1511.5 1757.2,1499.0 1757.7,1495.3 1758.1,1488.9 1758.5,1491.8 1759.0,1501.8 1759.4,1487.0 1759.8,1534.0 1760.3,1491.9 1760.7,1486.8 1761.1,1521.7 1761.6,1515.4 1762.0,1488.3 1762.4,1500.5 1762.9,1490.5 1763.3,1504.7 1763.7,1508.0 1764.1,1481.7 1764.6,1489.9 1765.0,1542.5 1765.4,1503.2 1765.9,1490.8 1766.3,1494.8 1766.7,1519.8 1767.2,1496.3 1767.6,1505.9 1768.0,1483.7 1768.5,1503.1 1768.9,1489.1 1769.3,1489.6 1769.8,1486.5 1770.2,1496.6 1770.6,1490.8 1771.0,1541.9 1771.5,1497.8 1771.9,1492.6 1772.3,1520.0 1772.8,1497.8 1773.2,1487.1 1773.6,1488.2 1774.1,1544.4 1774.5,1515.6 1774.9,1506.2 1775.4,1590.0 1775.8,1486.8 1776.2,1505.9 1776.7,1484.7 1777.1,1502.6 1777.5,1509.8 1777.9,1481.8 1778.4,1508.7 1778.8,1483.2 1779.2,1527.0 1779.7,1478.3 1780.1,1481.1 1780.5,1519.9 1781.0,1521.7 1781.4,1515.8 1781.8,1499.6 1782.3,1482.4 1782.7,1488.3 1783.1,1524.2 1783.6,1509.8 1784.0,1533.4 1784.4,1509.0 1784.8,1490.5 1785.3,1486.1 1785.7,1498.4 1786.1,1487.1 1786.6,1523.5 1787.0,1481.6 1787.4,1496.5 1787.9,1531.6 1788.3,1520.2 1788.7,1509.2 1789.2,1551.4 1789.6,1495.0 1790.0,1513.3 1790.5,1478.7 1790.9,1507.9 1791.3,1506.5 1791.7,1521.2 1792.2,1485.5 1792.6,1517.2 1793.0,1502.6 1793.5,1544.1 1793.9,1533.2 1794.3,1494.9 1794.8,1507.9 1795.2,1490.8 1795.6,1512.5" fill="none" stroke="#036EE3" stroke-width="4.8" stroke-linejoin="round" stroke-linecap="round" clip-path="url(#cb)"/>
<polyline points="374.1,403.5 383.8,399.0 393.4,394.7 403.1,390.5 412.7,386.7 422.4,383.1 432.0,380.0 441.7,377.3 451.3,375.1 461.0,373.4 470.6,372.3 480.3,371.7 489.9,371.7 499.6,372.3 509.2,373.4 518.9,375.1 528.5,377.3 538.2,380.0 547.8,383.1 557.5,386.7 567.1,390.5 576.8,394.7 586.4,399.0 596.1,403.5 605.7,408.1 615.4,412.7 625.0,417.2 634.7,421.5 644.3,425.7 654.0,429.5 663.6,433.1 673.3,436.2 682.9,438.9 692.6,441.1 702.2,442.8 711.9,443.9 721.5,444.5 731.2,444.5 740.8,443.9 750.5,442.8 760.1,441.1 769.8,438.9 779.4,436.2 789.1,433.1 798.7,429.5 808.4,425.7 818.0,421.5 827.7,417.2 837.3,412.7 847.0,408.1 856.6,396.7 866.2,385.4 875.9,374.5 885.5,364.2 895.2,354.5 904.8,345.7 914.5,337.8 924.1,331.1 933.8,325.6 943.4,321.4 953.1,318.5 962.7,317.1 972.4,317.1 982.0,318.5 991.7,321.4 1001.3,325.6 1011.0,331.1 1020.6,337.8 1030.3,345.7 1039.9,354.5 1049.6,364.2 1059.2,374.5 1068.9,385.4 1078.5,396.7 1088.2,408.1 1097.8,419.5 1107.5,430.8 1117.1,441.7 1126.8,452.0 1136.4,461.7 1146.1,470.5 1155.7,478.4 1165.4,485.1 1175.0,490.6 1184.7,494.8 1194.3,497.7 1204.0,499.1 1213.6,499.1 1223.3,497.7 1232.9,494.8 1242.6,490.6 1252.2,485.1 1261.9,478.4 1271.5,470.5 1281.2,461.7 1290.8,452.0 1300.5,441.7 1310.1,430.8 1319.8,419.5 1329.4,408.1 1339.0,385.2 1348.7,362.7 1358.3,341.0 1368.0,320.2 1377.6,300.9 1387.3,283.3 1396.9,267.6 1406.6,254.1 1416.2,243.1 1425.9,234.7 1435.5,229.0 1445.2,226.1 1454.8,226.1 1464.5,229.0 1474.1,234.7 1483.8,243.1 1493.4,254.1 1503.1,267.6 1512.7,283.3 1522.4,300.9 1532.0,320.2 1541.7,341.0 1551.3,362.7 1561.0,385.2 1570.6,408.1 1580.3,431.0 1589.9,453.5 1599.6,475.2 1609.2,496.0 1618.9,515.3 1628.5,532.9 1638.2,548.6 1647.8,562.1 1657.5,573.1 1667.1,581.5 1676.8,587.2 1686.4,590.1 1696.1,590.1 1705.7,587.2 1715.4,581.5 1725.0,573.1 1734.7,562.1 1744.3,548.6 1754.0,532.9 1763.6,515.3 1773.3,496.0 1782.9,475.2 1792.6,453.5 1802.2,431.0 1811.9,408.1" fill="none" stroke="#4F4F4F" stroke-width="5.0" stroke-linejoin="round" stroke-linecap="round" stroke-dasharray="17.2 10.8 3.1 10.8"/>
<polyline points="374.1,399.5 383.8,391.0 393.4,382.9 403.1,375.2 412.7,368.2 422.4,361.9 432.0,356.3 441.7,351.6 451.3,347.9 461.0,345.0 470.6,343.1 480.3,342.1 489.9,342.1 499.6,343.1 509.2,345.0 518.9,347.9 528.5,351.6 538.2,356.3 547.8,361.9 557.5,368.2 567.1,375.2 576.8,382.9 586.4,391.0 596.1,399.5 605.7,408.1 615.4,416.7 625.0,425.2 634.7,433.3 644.3,441.0 654.0,448.0 663.6,454.3 673.3,459.9 682.9,464.6 692.6,468.3 702.2,471.2 711.9,473.1 721.5,474.1 731.2,474.1 740.8,473.1 750.5,471.2 760.1,468.3 769.8,464.6 779.4,459.9 789.1,454.3 798.7,448.0 808.4,441.0 818.0,433.3 827.7,425.2 837.3,416.7 847.0,408.1 856.6,387.3 866.2,367.4 875.9,349.0 885.5,332.6 895.2,318.3 904.8,306.4 914.5,296.6 924.1,288.8 933.8,282.8 943.4,278.5 953.1,275.7 962.7,274.3 972.4,274.3 982.0,275.7 991.7,278.5 1001.3,282.8 1011.0,288.8 1020.6,296.6 1030.3,306.4 1039.9,318.3 1049.6,332.6 1059.2,349.0 1068.9,367.4 1078.5,387.3 1088.2,408.1 1097.8,428.9 1107.5,448.8 1117.1,467.2 1126.8,483.6 1136.4,497.9 1146.1,509.8 1155.7,519.6 1165.4,527.4 1175.0,533.4 1184.7,537.7 1194.3,540.5 1204.0,541.9 1213.6,541.9 1223.3,540.5 1232.9,537.7 1242.6,533.4 1252.2,527.4 1261.9,519.6 1271.5,509.8 1281.2,497.9 1290.8,483.6 1300.5,467.2 1310.1,448.8 1319.8,428.9 1329.4,408.1 1339.0,365.2 1348.7,326.8 1358.3,295.4 1368.0,271.3 1377.6,253.4 1387.3,240.3 1396.9,230.8 1406.6,223.9 1416.2,219.0 1425.9,215.6 1435.5,213.4 1445.2,212.4 1454.8,212.4 1464.5,213.4 1474.1,215.6 1483.8,219.0 1493.4,223.9 1503.1,230.8 1512.7,240.3 1522.4,253.4 1532.0,271.3 1541.7,295.4 1551.3,326.8 1561.0,365.2 1570.6,408.1 1580.3,451.0 1589.9,489.4 1599.6,520.8 1609.2,544.9 1618.9,562.8 1628.5,575.9 1638.2,585.4 1647.8,592.3 1657.5,597.2 1667.1,600.6 1676.8,602.8 1686.4,603.8 1696.1,603.8 1705.7,602.8 1715.4,600.6 1725.0,597.2 1734.7,592.3 1744.3,585.4 1754.0,575.9 1763.6,562.8 1773.3,544.9 1782.9,520.8 1792.6,489.4 1802.2,451.0 1811.9,408.1" fill="none" stroke="#036EE3" stroke-width="5.0" stroke-linejoin="round" stroke-linecap="round"/>
<polyline points="374.1,393.7 383.8,379.7 393.4,366.4 403.1,354.2 412.7,343.3 422.4,333.7 432.0,325.5 441.7,318.8 451.3,313.5 461.0,309.6 470.6,307.0 480.3,305.8 489.9,305.8 499.6,307.0 509.2,309.6 518.9,313.5 528.5,318.8 538.2,325.5 547.8,333.7 557.5,343.3 567.1,354.2 576.8,366.4 586.4,379.7 596.1,393.7 605.7,408.1 615.4,422.5 625.0,436.5 634.7,449.8 644.3,462.0 654.0,472.9 663.6,482.5 673.3,490.7 682.9,497.4 692.6,502.7 702.2,506.6 711.9,509.2 721.5,510.4 731.2,510.4 740.8,509.2 750.5,506.6 760.1,502.7 769.8,497.4 779.4,490.7 789.1,482.5 798.7,472.9 808.4,462.0 818.0,449.8 827.7,436.5 837.3,422.5 847.0,408.1 856.6,372.5 866.2,339.9 875.9,312.3 885.5,290.2 895.2,273.2 904.8,260.3 914.5,250.7 924.1,243.6 933.8,238.5 943.4,234.9 953.1,232.7 962.7,231.6 972.4,231.6 982.0,232.7 991.7,234.9 1001.3,238.5 1011.0,243.6 1020.6,250.7 1030.3,260.3 1039.9,273.2 1049.6,290.2 1059.2,312.3 1068.9,339.9 1078.5,372.5 1088.2,408.1 1097.8,443.7 1107.5,476.3 1117.1,503.9 1126.8,526.0 1136.4,543.0 1146.1,555.9 1155.7,565.5 1165.4,572.6 1175.0,577.7 1184.7,581.3 1194.3,583.5 1204.0,584.6 1213.6,584.6 1223.3,583.5 1232.9,581.3 1242.6,577.7 1252.2,572.6 1261.9,565.5 1271.5,555.9 1281.2,543.0 1290.8,526.0 1300.5,503.9 1310.1,476.3 1319.8,443.7 1329.4,408.1 1339.0,336.5 1348.7,282.3 1358.3,247.7 1368.0,226.5 1377.6,213.2 1387.3,204.5 1396.9,198.5 1406.6,194.4 1416.2,191.5 1425.9,189.5 1435.5,188.3 1445.2,187.7 1454.8,187.7 1464.5,188.3 1474.1,189.5 1483.8,191.5 1493.4,194.4 1503.1,198.5 1512.7,204.5 1522.4,213.2 1532.0,226.5 1541.7,247.7 1551.3,282.3 1561.0,336.5 1570.6,408.1 1580.3,479.7 1589.9,533.9 1599.6,568.5 1609.2,589.7 1618.9,603.0 1628.5,611.7 1638.2,617.7 1647.8,621.8 1657.5,624.7 1667.1,626.7 1676.8,627.9 1686.4,628.5 1696.1,628.5 1705.7,627.9 1715.4,626.7 1725.0,624.7 1734.7,621.8 1744.3,617.7 1754.0,611.7 1763.6,603.0 1773.3,589.7 1782.9,568.5 1792.6,533.9 1802.2,479.7 1811.9,408.1" fill="none" stroke="#FD3C3C" stroke-width="5.0" stroke-linejoin="round" stroke-linecap="round"/>
<g font-family="'Liberation Serif', 'DejaVu Serif', serif" fill="#000"><text x="118.9" y="406.45" font-size="67.4" font-weight="bold" text-anchor="middle" transform="rotate(-90 118.9 406.45)">Magnetization (A/m)</text><text x="2048.05" y="406.6" font-size="67.4" font-weight="bold" text-anchor="middle" transform="rotate(-90 2048.05 406.6)">Magnetic field (T)</text><text x="205.9" y="1249.8" font-size="67.4" font-weight="bold" text-anchor="middle" transform="rotate(-90 205.9 1249.8)">Amplitude (dB)</text><text x="1089.8" y="901" font-size="67.4" font-weight="bold" text-anchor="middle">Time (s)</text><text x="1089.5" y="1747.4" font-size="67.4" font-weight="bold" text-anchor="middle">Frequency (Hz)</text><text x="364.5" y="800.2" font-size="50.5" font-weight="bold" text-anchor="middle">0.000</text><text x="557.5" y="800.2" font-size="50.5" font-weight="bold" text-anchor="middle">0.002</text><text x="750.5" y="800.2" font-size="50.5" font-weight="bold" text-anchor="middle">0.004</text><text x="943.4" y="800.2" font-size="50.5" font-weight="bold" text-anchor="middle">0.006</text><text x="1136.4" y="800.2" font-size="50.5" font-weight="bold" text-anchor="middle">0.008</text><text x="1328.4" y="800.2" font-size="50.5" font-weight="bold" text-anchor="middle">0.010</text><text x="1522.4" y="800.2" font-size="50.5" font-weight="bold" text-anchor="middle">0.012</text><text x="1715.4" y="800.2" font-size="50.5" font-weight="bold" text-anchor="middle">0.014</text><text x="152.9" y="160.8" font-size="50.5" font-weight="bold" text-anchor="start">1.0</text><text x="228.1" y="167.5" font-size="56.3" font-weight="normal" text-anchor="start">×</text><text x="270.6" y="160.8" font-size="50.5" font-weight="bold" text-anchor="start">10</text><text x="321.7" y="139.8" font-size="34.5" font-weight="bold" text-anchor="start">5</text><text x="150.9" y="296.0" font-size="50.5" font-weight="bold" text-anchor="start">5.0</text><text x="226.1" y="302.7" font-size="56.3" font-weight="normal" text-anchor="start">×</text><text x="268.6" y="296.0" font-size="50.5" font-weight="bold" text-anchor="start">10</text><text x="319.7" y="275.0" font-size="34.5" font-weight="bold" text-anchor="start">4</text><text x="273.2" y="423.5" font-size="50.5" font-weight="bold" text-anchor="start">0.0</text><rect x="115.0" y="513.1" width="230.0" height="62.5" fill="#fff"/><text x="126.0" y="558.3000000000001" font-size="50.5" font-weight="normal" text-anchor="start">–</text><text x="152.0" y="559.1" font-size="50.5" font-weight="bold" text-anchor="start">5.0</text><text x="227.2" y="565.8" font-size="56.3" font-weight="normal" text-anchor="start">×</text><text x="269.7" y="559.1" font-size="50.5" font-weight="bold" text-anchor="start">10</text><text x="320.8" y="538.1" font-size="34.5" font-weight="bold" text-anchor="start">4</text><rect x="115.0" y="644.2" width="230.0" height="62.5" fill="#fff"/><text x="126.19999999999999" y="689.4000000000001" font-size="50.5" font-weight="normal" text-anchor="start">–</text><text x="152.2" y="690.2" font-size="50.5" font-weight="bold" text-anchor="start">1.0</text><text x="227.4" y="696.9" font-size="56.3" font-weight="normal" text-anchor="start">×</text><text x="269.9" y="690.2" font-size="50.5" font-weight="bold" text-anchor="start">10</text><text x="321.0" y="669.2" font-size="34.5" font-weight="bold" text-anchor="start">5</text><text x="1982.9" y="696.7" font-size="50.5" font-weight="bold" text-anchor="end">0.015</text><text x="1842.3" y="695.9000000000001" font-size="50.5" font-weight="normal" text-anchor="start">–</text><text x="1982.9" y="605.7" font-size="50.5" font-weight="bold" text-anchor="end">0.010</text><text x="1842.3" y="604.9000000000001" font-size="50.5" font-weight="normal" text-anchor="start">–</text><text x="1982.9" y="513.7" font-size="50.5" font-weight="bold" text-anchor="end">0.005</text><text x="1842.3" y="512.9000000000001" font-size="50.5" font-weight="normal" text-anchor="start">–</text><text x="1982.9" y="423.7" font-size="50.5" font-weight="bold" text-anchor="end">0.000</text><text x="1982.9" y="332.7" font-size="50.5" font-weight="bold" text-anchor="end">0.005</text><text x="1982.9" y="240.7" font-size="50.5" font-weight="bold" text-anchor="end">0.010</text><text x="1982.9" y="149.7" font-size="50.5" font-weight="bold" text-anchor="end">0.015</text><text x="337.3" y="968.3" font-size="50.5" font-weight="bold" text-anchor="end">0</text><text x="337.3" y="1140.3" font-size="50.5" font-weight="bold" text-anchor="end">30</text><text x="260.0" y="1139.5" font-size="50.5" font-weight="normal" text-anchor="start">–</text><text x="337.3" y="1309.3" font-size="50.5" font-weight="bold" text-anchor="end">60</text><text x="260.0" y="1308.5" font-size="50.5" font-weight="normal" text-anchor="start">–</text><text x="337.3" y="1476.6" font-size="50.5" font-weight="bold" text-anchor="end">90</text><text x="260.0" y="1475.8" font-size="50.5" font-weight="normal" text-anchor="start">–</text><text x="371.2" y="1666" font-size="50.5" font-weight="bold" text-anchor="middle">0</text><text x="500" y="1666" font-size="50.5" font-weight="bold" text-anchor="middle">300</text><text x="630.4" y="1666" font-size="50.5" font-weight="bold" text-anchor="middle">600</text><text x="759.1" y="1666" font-size="50.5" font-weight="bold" text-anchor="middle">900</text><text x="841.5" y="1668" font-size="50.5" font-weight="bold" text-anchor="middle">0</text><text x="981.6" y="1668" font-size="50.5" font-weight="bold" text-anchor="middle">300</text><text x="1109.4" y="1668" font-size="50.5" font-weight="bold" text-anchor="middle">600</text><text x="1247.8" y="1668" font-size="50.5" font-weight="bold" text-anchor="middle">900</text><text x="1328.7" y="1668" font-size="50.5" font-weight="bold" text-anchor="middle">0</text><text x="1468.5" y="1668" font-size="50.5" font-weight="bold" text-anchor="middle">300</text><text x="1596.7" y="1668" font-size="50.5" font-weight="bold" text-anchor="middle">600</text><text x="1736.3" y="1668" font-size="50.5" font-weight="bold" text-anchor="middle">900</text><text x="475.5" y="127.0" font-size="41.9" font-weight="bold" text-anchor="start">Excitation magnetic field</text><text x="475.5" y="181.7" font-size="41.9" font-weight="bold" text-anchor="start">Magnetization <tspan font-weight="normal">@</tspan>S1</text><text x="475.5" y="236.0" font-size="41.9" font-weight="bold" text-anchor="start">Magnetization <tspan font-weight="normal">@</tspan>S2</text><text x="621.5" y="967" font-size="41.9" font-weight="bold" text-anchor="start">S1</text><text x="621.5" y="1021" font-size="41.9" font-weight="bold" text-anchor="start">S2</text><text x="566.4" y="641.0" font-size="38.3" font-weight="bold" text-anchor="middle">0.2 mT</text><text x="1059.0" y="644.8" font-size="38.3" font-weight="bold" text-anchor="middle">5 mT</text><text x="1524.5" y="636.2" font-size="38.3" font-weight="bold" text-anchor="middle">10 mT</text><text x="1701" y="166" font-size="50.5" font-weight="normal" text-anchor="middle">(a)</text><text x="1699" y="968" font-size="50.5" font-weight="normal" text-anchor="middle">(b)</text></g>
<path d="M847.5 130.9 L847.5 850 L848.6 868 L848.6 1585.6" fill="none" stroke="#000" stroke-width="5.2" stroke-dasharray="27.9 25.05"/>
<path d="M1327.5 98.9 L1327.5 1556.7" fill="none" stroke="#000" stroke-width="5.2" stroke-dasharray="27.9 25.05"/>
<g stroke="#000" stroke-width="5.0" fill="none"><line x1="362.5" y1="77.0" x2="362.5" y2="739.0"/><line x1="1816.5" y1="77.0" x2="1816.5" y2="739.0"/><line x1="354" y1="79.5" x2="1819.0" y2="79.5"/><line x1="354" y1="736.5" x2="1819.0" y2="736.5"/><line x1="347" y1="670.5" x2="362.5" y2="670.5"/><line x1="347" y1="539.5" x2="362.5" y2="539.5"/><line x1="347" y1="408.5" x2="362.5" y2="408.5"/><line x1="347" y1="276.5" x2="362.5" y2="276.5"/><line x1="347" y1="145.5" x2="362.5" y2="145.5"/><line x1="354" y1="604.5" x2="362.5" y2="604.5"/><line x1="354" y1="473.5" x2="362.5" y2="473.5"/><line x1="354" y1="342.5" x2="362.5" y2="342.5"/><line x1="354" y1="211.5" x2="362.5" y2="211.5"/><line x1="1816.5" y1="88.5" x2="1824" y2="88.5"/><line x1="1816.5" y1="134.5" x2="1831" y2="134.5"/><line x1="1816.5" y1="180.5" x2="1824" y2="180.5"/><line x1="1816.5" y1="225.5" x2="1831" y2="225.5"/><line x1="1816.5" y1="271.5" x2="1824" y2="271.5"/><line x1="1816.5" y1="317.5" x2="1831" y2="317.5"/><line x1="1816.5" y1="362.5" x2="1824" y2="362.5"/><line x1="1816.5" y1="408.5" x2="1831" y2="408.5"/><line x1="1816.5" y1="453.5" x2="1824" y2="453.5"/><line x1="1816.5" y1="498.5" x2="1831" y2="498.5"/><line x1="1816.5" y1="544.5" x2="1824" y2="544.5"/><line x1="1816.5" y1="590.5" x2="1831" y2="590.5"/><line x1="1816.5" y1="635.5" x2="1824" y2="635.5"/><line x1="1816.5" y1="681.5" x2="1831" y2="681.5"/><line x1="1816.5" y1="727.5" x2="1824" y2="727.5"/><line x1="364.5" y1="736.5" x2="364.5" y2="751"/><line x1="460.5" y1="736.5" x2="460.5" y2="744"/><line x1="557.5" y1="736.5" x2="557.5" y2="751"/><line x1="654.5" y1="736.5" x2="654.5" y2="744"/><line x1="750.5" y1="736.5" x2="750.5" y2="751"/><line x1="847.5" y1="736.5" x2="847.5" y2="744"/><line x1="943.5" y1="736.5" x2="943.5" y2="751"/><line x1="1040.5" y1="736.5" x2="1040.5" y2="744"/><line x1="1136.5" y1="736.5" x2="1136.5" y2="751"/><line x1="1232.5" y1="736.5" x2="1232.5" y2="744"/><line x1="1328.5" y1="736.5" x2="1328.5" y2="751"/><line x1="1425.5" y1="736.5" x2="1425.5" y2="744"/><line x1="1522.5" y1="736.5" x2="1522.5" y2="751"/><line x1="1618.5" y1="736.5" x2="1618.5" y2="744"/><line x1="1715.5" y1="736.5" x2="1715.5" y2="751"/><line x1="1811.5" y1="736.5" x2="1811.5" y2="744"/><line x1="362.5" y1="942.0" x2="362.5" y2="1605.0"/><line x1="360.0" y1="1602.5" x2="1819.0" y2="1602.5"/><line x1="347" y1="955.5" x2="362.5" y2="955.5"/><line x1="347" y1="1124.5" x2="362.5" y2="1124.5"/><line x1="347" y1="1292.5" x2="362.5" y2="1292.5"/><line x1="347" y1="1461.5" x2="362.5" y2="1461.5"/><line x1="354" y1="1039.5" x2="362.5" y2="1039.5"/><line x1="354" y1="1208.5" x2="362.5" y2="1208.5"/><line x1="354" y1="1377.5" x2="362.5" y2="1377.5"/><line x1="354" y1="1545.5" x2="362.5" y2="1545.5"/><line x1="371.5" y1="1602.5" x2="371.5" y2="1617"/><line x1="435.5" y1="1602.5" x2="435.5" y2="1610"/><line x1="500.5" y1="1602.5" x2="500.5" y2="1617"/><line x1="565.5" y1="1602.5" x2="565.5" y2="1610"/><line x1="630.5" y1="1602.5" x2="630.5" y2="1617"/><line x1="694.5" y1="1602.5" x2="694.5" y2="1610"/><line x1="759.5" y1="1602.5" x2="759.5" y2="1617"/><line x1="824.5" y1="1602.5" x2="824.5" y2="1610"/><line x1="889.5" y1="1602.5" x2="889.5" y2="1615"/><line x1="953.5" y1="1602.5" x2="953.5" y2="1610"/><line x1="1018.5" y1="1602.5" x2="1018.5" y2="1615"/><line x1="1083.5" y1="1602.5" x2="1083.5" y2="1610"/><line x1="1147.5" y1="1602.5" x2="1147.5" y2="1615"/><line x1="1212.5" y1="1602.5" x2="1212.5" y2="1610"/><line x1="1276.5" y1="1602.5" x2="1276.5" y2="1615"/><line x1="1341.5" y1="1602.5" x2="1341.5" y2="1610"/><line x1="1406.5" y1="1602.5" x2="1406.5" y2="1615"/><line x1="1471.5" y1="1602.5" x2="1471.5" y2="1610"/><line x1="1535.5" y1="1602.5" x2="1535.5" y2="1615"/><line x1="1600.5" y1="1602.5" x2="1600.5" y2="1610"/><line x1="1665.5" y1="1602.5" x2="1665.5" y2="1615"/><line x1="1730.5" y1="1602.5" x2="1730.5" y2="1610"/><line x1="1794.5" y1="1602.5" x2="1794.5" y2="1617"/></g>
<line x1="368.8" y1="113.4" x2="464.3" y2="113.4" stroke="#4F4F4F" stroke-width="5" stroke-linecap="round" stroke-dasharray="17.2 10.8 3.1 10.8"/>
<line x1="368.8" y1="167.4" x2="464.3" y2="167.4" stroke="#036EE3" stroke-width="5" stroke-linecap="round"/>
<line x1="368.8" y1="221.4" x2="464.3" y2="221.4" stroke="#FD3C3C" stroke-width="5" stroke-linecap="round"/>
<line x1="515.5" y1="952.4" x2="611.6" y2="952.4" stroke="#036EE3" stroke-width="5" stroke-linecap="round"/>
<line x1="515.5" y1="1006.5" x2="611.6" y2="1006.7" stroke="#FD3C3C" stroke-width="5" stroke-linecap="round"/>
</svg></body></html>
